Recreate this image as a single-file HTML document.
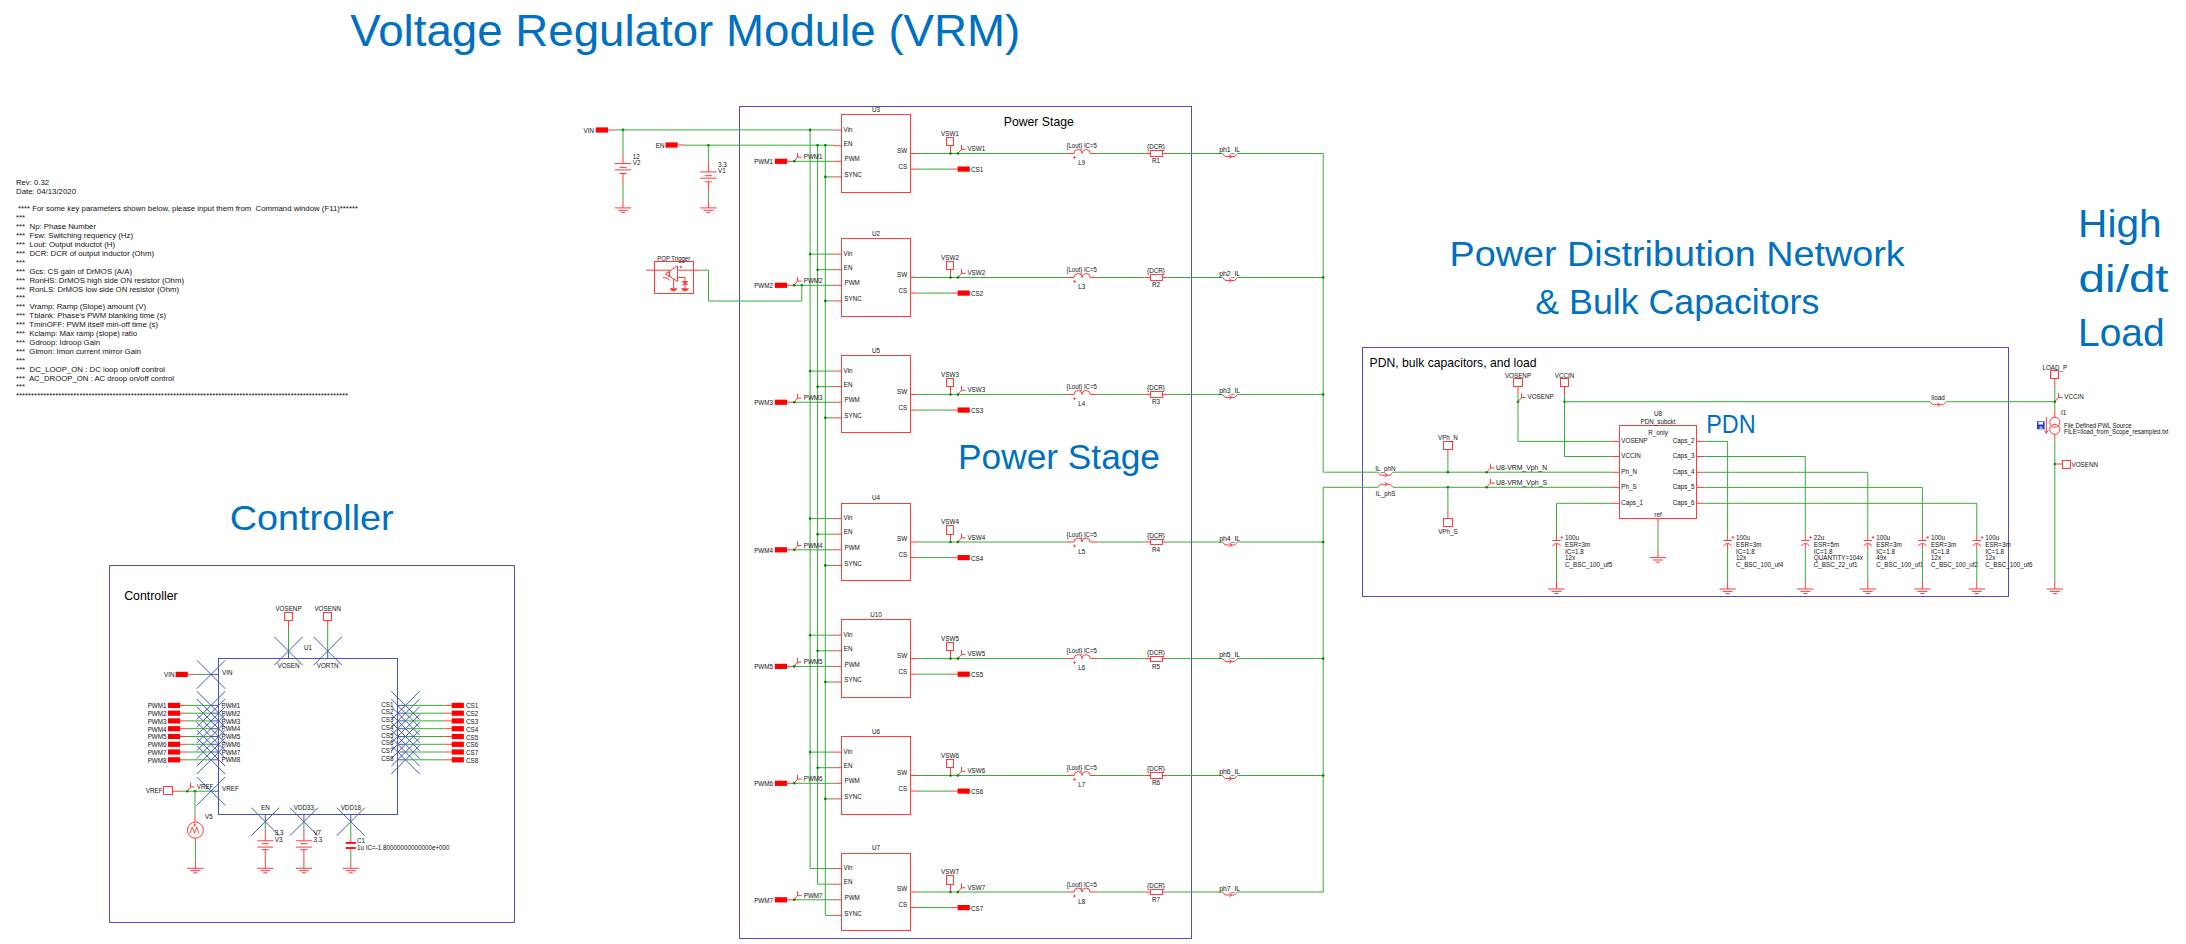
<!DOCTYPE html>
<html><head><meta charset="utf-8"><title>VRM schematic</title>
<style>
html,body{margin:0;padding:0;background:#fff;}
body{width:2186px;height:944px;overflow:hidden;}
svg{display:block;}
text{font-family:"Liberation Sans",sans-serif;white-space:pre;}
</style></head>
<body>
<svg width="2186" height="944" viewBox="0 0 2186 944">
<rect x="0" y="0" width="2186" height="944" fill="#ffffff"/>
<rect x="739.50" y="106.50" width="452.00" height="832.00" stroke="#4f4fb4" stroke-width="1" fill="none"/>
<rect x="1362.50" y="347.50" width="646.00" height="249.00" stroke="#4f4fb4" stroke-width="1" fill="none"/>
<rect x="109.50" y="565.50" width="405.00" height="357.00" stroke="#4f4fb4" stroke-width="1" fill="none"/>
<text x="350.3" y="45.6" font-size="45.11" fill="#0070c0" textLength="670" lengthAdjust="spacingAndGlyphs">Voltage Regulator Module (VRM)</text>
<text x="1449.6" y="265.8" font-size="34.78" fill="#0070c0" textLength="455" lengthAdjust="spacingAndGlyphs">Power Distribution Network</text>
<text x="1535.3" y="313.5" font-size="34.78" fill="#0070c0" textLength="284" lengthAdjust="spacingAndGlyphs">&amp; Bulk Capacitors</text>
<text x="2078.1" y="237.4" font-size="38.13" fill="#0070c0" textLength="83.5" lengthAdjust="spacingAndGlyphs">High</text>
<text x="2078.6" y="291.6" font-size="38.13" fill="#0070c0" textLength="90" lengthAdjust="spacingAndGlyphs">di/dt</text>
<text x="2078.1" y="345.5" font-size="38.13" fill="#0070c0" textLength="86.5" lengthAdjust="spacingAndGlyphs">Load</text>
<text x="958" y="468.9" font-size="34.22" fill="#0070c0" textLength="202" lengthAdjust="spacingAndGlyphs">Power Stage</text>
<text x="229.7" y="530" font-size="34.78" fill="#0070c0" textLength="164" lengthAdjust="spacingAndGlyphs">Controller</text>
<text x="1706.2" y="433" font-size="24.86" fill="#0070c0" textLength="49.5" lengthAdjust="spacingAndGlyphs">PDN</text>
<text x="1003.80" y="125.60" font-size="12.8" fill="#000" textLength="70" lengthAdjust="spacingAndGlyphs">Power Stage</text>
<text x="1369.60" y="366.50" font-size="12.7" fill="#000" textLength="167" lengthAdjust="spacingAndGlyphs">PDN, bulk capacitors, and load</text>
<text x="124.20" y="599.90" font-size="13" fill="#000" textLength="53.5" lengthAdjust="spacingAndGlyphs">Controller</text>
<text x="16.00" y="184.79" font-size="7.8" fill="#111111" textLength="33" lengthAdjust="spacingAndGlyphs">Rev: 0.32</text>
<text x="16.00" y="193.69" font-size="7.8" fill="#111111" textLength="60" lengthAdjust="spacingAndGlyphs">Date: 04/13/2020</text>
<text x="18.00" y="211.49" font-size="7.8" fill="#111111" textLength="340" lengthAdjust="spacingAndGlyphs">**** For some key parameters shown below, please input them from  Command window (F11)******</text>
<text x="16.00" y="220.39" font-size="7.8" fill="#111111" textLength="9" lengthAdjust="spacingAndGlyphs">***</text>
<text x="16.00" y="229.29" font-size="7.8" fill="#111111" textLength="80" lengthAdjust="spacingAndGlyphs">***  Np: Phase Number</text>
<text x="16.00" y="238.19" font-size="7.8" fill="#111111" textLength="117" lengthAdjust="spacingAndGlyphs">***  Fsw: Switching requency (Hz)</text>
<text x="16.00" y="247.09" font-size="7.8" fill="#111111" textLength="99" lengthAdjust="spacingAndGlyphs">***  Lout: Output inductot (H)</text>
<text x="16.00" y="255.99" font-size="7.8" fill="#111111" textLength="138" lengthAdjust="spacingAndGlyphs">***  DCR: DCR of output inductor (Ohm)</text>
<text x="16.00" y="264.89" font-size="7.8" fill="#111111" textLength="9" lengthAdjust="spacingAndGlyphs">***</text>
<text x="16.00" y="273.79" font-size="7.8" fill="#111111" textLength="116" lengthAdjust="spacingAndGlyphs">***  Gcs: CS gain of DrMOS (A/A)</text>
<text x="16.00" y="282.69" font-size="7.8" fill="#111111" textLength="168" lengthAdjust="spacingAndGlyphs">***  RonHS: DrMOS high side ON resistor (Ohm)</text>
<text x="16.00" y="291.59" font-size="7.8" fill="#111111" textLength="163" lengthAdjust="spacingAndGlyphs">***  RonLS: DrMOS low side ON resistor (Ohm)</text>
<text x="16.00" y="300.49" font-size="7.8" fill="#111111" textLength="9" lengthAdjust="spacingAndGlyphs">***</text>
<text x="16.00" y="309.39" font-size="7.8" fill="#111111" textLength="130" lengthAdjust="spacingAndGlyphs">***  Vramp: Ramp (Slope) amount (V)</text>
<text x="16.00" y="318.29" font-size="7.8" fill="#111111" textLength="150" lengthAdjust="spacingAndGlyphs">***  Tblank: Phase's PWM blanking time (s)</text>
<text x="16.00" y="327.19" font-size="7.8" fill="#111111" textLength="142" lengthAdjust="spacingAndGlyphs">***  TminOFF: PWM itself min-off time (s)</text>
<text x="16.00" y="336.09" font-size="7.8" fill="#111111" textLength="121" lengthAdjust="spacingAndGlyphs">***  Kclamp: Max ramp (slope) ratio</text>
<text x="16.00" y="344.99" font-size="7.8" fill="#111111" textLength="84" lengthAdjust="spacingAndGlyphs">***  Gdroop: Idroop Gain</text>
<text x="16.00" y="353.89" font-size="7.8" fill="#111111" textLength="125" lengthAdjust="spacingAndGlyphs">***  Gimon: Imon current mirror Gain</text>
<text x="16.00" y="362.79" font-size="7.8" fill="#111111" textLength="9" lengthAdjust="spacingAndGlyphs">***</text>
<text x="16.00" y="371.69" font-size="7.8" fill="#111111" textLength="149" lengthAdjust="spacingAndGlyphs">***  DC_LOOP_ON : DC loop on/off control</text>
<text x="16.00" y="380.59" font-size="7.8" fill="#111111" textLength="158" lengthAdjust="spacingAndGlyphs">***  AC_DROOP_ON : AC droop on/off control</text>
<text x="16.00" y="389.49" font-size="7.8" fill="#111111" textLength="9" lengthAdjust="spacingAndGlyphs">***</text>
<text x="16.00" y="398.39" font-size="7.8" fill="#111111" textLength="332" lengthAdjust="spacingAndGlyphs">**************************************************************************************************************</text>
<rect x="595.80" y="127.40" width="12.20" height="5.20" fill="#ff0000"/>
<text transform="translate(594.00,132.65) scale(0.85,1)" font-size="7.4" fill="#111111" text-anchor="end">VIN</text>
<line x1="608.00" y1="130.00" x2="615.00" y2="130.00" stroke="#ff3b3b" stroke-width="1"/>
<line x1="615.00" y1="129.90" x2="833.20" y2="129.90" stroke="#3aaa3a" stroke-width="1"/>
<circle cx="623.00" cy="129.90" r="1.3" fill="#008800"/>
<line x1="623.00" y1="129.90" x2="623.00" y2="153.90" stroke="#3aaa3a" stroke-width="1"/>
<line x1="623.00" y1="153.90" x2="623.00" y2="163.60" stroke="#ff3b3b" stroke-width="1"/>
<line x1="614.80" y1="163.60" x2="631.20" y2="163.60" stroke="#ff3b3b" stroke-width="1"/>
<line x1="619.50" y1="167.40" x2="626.50" y2="167.40" stroke="#ff3b3b" stroke-width="1"/>
<line x1="614.80" y1="169.90" x2="631.20" y2="169.90" stroke="#ff3b3b" stroke-width="1"/>
<line x1="619.50" y1="173.50" x2="626.50" y2="173.50" stroke="#ff3b3b" stroke-width="1"/>
<line x1="623.00" y1="173.50" x2="623.00" y2="184.10" stroke="#ff3b3b" stroke-width="1"/>
<line x1="623.00" y1="184.10" x2="623.00" y2="200.10" stroke="#3aaa3a" stroke-width="1"/>
<line x1="623.00" y1="200.10" x2="623.00" y2="207.90" stroke="#ff3b3b" stroke-width="1"/>
<line x1="614.80" y1="207.90" x2="631.20" y2="207.90" stroke="#ff3b3b" stroke-width="1"/>
<line x1="618.00" y1="210.30" x2="628.00" y2="210.30" stroke="#ff3b3b" stroke-width="1"/>
<line x1="621.00" y1="212.40" x2="625.00" y2="212.40" stroke="#ff3b3b" stroke-width="1"/>
<text transform="translate(632.80,159.15) scale(0.85,1)" font-size="7.4" fill="#111111">12</text>
<text transform="translate(632.80,165.45) scale(0.85,1)" font-size="7.4" fill="#111111">V2</text>
<rect x="665.50" y="142.40" width="12.20" height="5.20" fill="#ff0000"/>
<text transform="translate(664.50,147.65) scale(0.85,1)" font-size="7.4" fill="#111111" text-anchor="end">EN</text>
<line x1="677.70" y1="145.00" x2="685.00" y2="145.00" stroke="#ff3b3b" stroke-width="1"/>
<line x1="685.00" y1="145.20" x2="833.20" y2="145.20" stroke="#3aaa3a" stroke-width="1"/>
<circle cx="708.40" cy="145.20" r="1.3" fill="#008800"/>
<line x1="708.40" y1="145.20" x2="708.40" y2="161.30" stroke="#3aaa3a" stroke-width="1"/>
<line x1="708.40" y1="161.30" x2="708.40" y2="171.90" stroke="#ff3b3b" stroke-width="1"/>
<line x1="700.20" y1="171.90" x2="716.60" y2="171.90" stroke="#ff3b3b" stroke-width="1"/>
<line x1="704.90" y1="175.70" x2="711.90" y2="175.70" stroke="#ff3b3b" stroke-width="1"/>
<line x1="700.20" y1="178.20" x2="716.60" y2="178.20" stroke="#ff3b3b" stroke-width="1"/>
<line x1="704.90" y1="181.80" x2="711.90" y2="181.80" stroke="#ff3b3b" stroke-width="1"/>
<line x1="708.40" y1="181.80" x2="708.40" y2="191.60" stroke="#ff3b3b" stroke-width="1"/>
<line x1="708.40" y1="191.60" x2="708.40" y2="200.10" stroke="#3aaa3a" stroke-width="1"/>
<line x1="708.40" y1="200.10" x2="708.40" y2="207.90" stroke="#ff3b3b" stroke-width="1"/>
<line x1="700.20" y1="207.90" x2="716.60" y2="207.90" stroke="#ff3b3b" stroke-width="1"/>
<line x1="703.40" y1="210.30" x2="713.40" y2="210.30" stroke="#ff3b3b" stroke-width="1"/>
<line x1="706.40" y1="212.40" x2="710.40" y2="212.40" stroke="#ff3b3b" stroke-width="1"/>
<text transform="translate(718.00,166.65) scale(0.85,1)" font-size="7.4" fill="#111111">3.3</text>
<text transform="translate(718.00,173.45) scale(0.85,1)" font-size="7.4" fill="#111111">V1</text>
<line x1="810.10" y1="129.90" x2="810.10" y2="868.60" stroke="#3aaa3a" stroke-width="1"/>
<line x1="817.60" y1="145.20" x2="817.60" y2="884.20" stroke="#3aaa3a" stroke-width="1"/>
<line x1="825.30" y1="145.20" x2="825.30" y2="915.40" stroke="#3aaa3a" stroke-width="1"/>
<circle cx="810.10" cy="129.90" r="1.3" fill="#008800"/>
<circle cx="817.60" cy="145.20" r="1.3" fill="#008800"/>
<circle cx="825.30" cy="145.20" r="1.3" fill="#008800"/>
<rect x="841.50" y="114.50" width="69.00" height="78.00" stroke="#ff3b3b" stroke-width="1" fill="none"/>
<text transform="translate(876.00,111.75) scale(0.85,1)" font-size="7.4" fill="#111111" text-anchor="middle">U3</text>
<line x1="833.20" y1="130.10" x2="841.20" y2="130.10" stroke="#ff3b3b" stroke-width="1"/>
<text transform="translate(843.60,131.55) scale(0.85,1)" font-size="7.4" fill="#111111">Vin</text>
<line x1="833.20" y1="145.70" x2="841.20" y2="145.70" stroke="#ff3b3b" stroke-width="1"/>
<text transform="translate(843.80,145.85) scale(0.85,1)" font-size="7.4" fill="#111111">EN</text>
<line x1="833.20" y1="161.30" x2="841.20" y2="161.30" stroke="#ff3b3b" stroke-width="1"/>
<text transform="translate(844.50,161.45) scale(0.85,1)" font-size="7.4" fill="#111111">PWM</text>
<line x1="833.20" y1="176.90" x2="841.20" y2="176.90" stroke="#ff3b3b" stroke-width="1"/>
<text transform="translate(844.30,177.05) scale(0.85,1)" font-size="7.4" fill="#111111">SYNC</text>
<line x1="825.30" y1="176.90" x2="833.20" y2="176.90" stroke="#3aaa3a" stroke-width="1"/>
<circle cx="825.30" cy="176.90" r="1.3" fill="#008800"/>
<text transform="translate(907.20,152.55) scale(0.85,1)" font-size="7.4" fill="#111111" text-anchor="end">SW</text>
<text transform="translate(907.20,168.55) scale(0.85,1)" font-size="7.4" fill="#111111" text-anchor="end">CS</text>
<line x1="910.80" y1="153.50" x2="918.00" y2="153.50" stroke="#ff3b3b" stroke-width="1"/>
<line x1="910.80" y1="169.10" x2="918.00" y2="169.10" stroke="#ff3b3b" stroke-width="1"/>
<line x1="918.00" y1="153.50" x2="1067.00" y2="153.50" stroke="#3aaa3a" stroke-width="1"/>
<path d="M1067,153.50 H1074.1 A4,4 0 0 1 1082.1,153.50 A4,4 0 0 1 1090.1,153.50 H1097.8" stroke="#ff3b3b" stroke-width="1" fill="none"/>
<path d="M1073,157.50 H1076 M1074.5,156.00 V159.00" stroke="#ff3b3b" stroke-width="0.8" fill="none"/>
<text x="1066.40" y="148.25" font-size="7.4" fill="#111111" textLength="30.5" lengthAdjust="spacingAndGlyphs">{Lout} IC=5</text>
<text transform="translate(1081.80,165.25) scale(0.85,1)" font-size="7.4" fill="#111111" text-anchor="middle">L9</text>
<line x1="1097.80" y1="153.50" x2="1144.60" y2="153.50" stroke="#3aaa3a" stroke-width="1"/>
<line x1="1144.60" y1="153.50" x2="1150.00" y2="153.50" stroke="#ff3b3b" stroke-width="1"/>
<rect x="1150.50" y="150.50" width="12.00" height="6.00" stroke="#ff3b3b" stroke-width="1" fill="none"/>
<line x1="1162.50" y1="153.50" x2="1167.40" y2="153.50" stroke="#ff3b3b" stroke-width="1"/>
<text transform="translate(1156.00,149.45) scale(0.85,1)" font-size="7.4" fill="#111111" text-anchor="middle">{DCR}</text>
<text transform="translate(1156.00,163.45) scale(0.85,1)" font-size="7.4" fill="#111111" text-anchor="middle">R1</text>
<line x1="1167.40" y1="153.50" x2="1222.60" y2="153.50" stroke="#3aaa3a" stroke-width="1"/>
<path d="M1222.60,153.50 L1225.10,156.50 H1234.70 L1237.50,153.50" stroke="#ff3b3b" stroke-width="1" fill="none"/>
<path d="M1229.34,154.50 L1231.84,156.50 L1229.34,158.50" stroke="#ff3b3b" stroke-width="1" fill="none"/>
<text x="1219.20" y="152.25" font-size="7.4" fill="#111111" textLength="21" lengthAdjust="spacingAndGlyphs">ph1_IL</text>
<line x1="1237.50" y1="153.50" x2="1323.20" y2="153.50" stroke="#3aaa3a" stroke-width="1"/>
<rect x="946.50" y="137.50" width="7.00" height="8.00" stroke="#ff3b3b" stroke-width="1" fill="none"/>
<text transform="translate(950.00,135.65) scale(0.85,1)" font-size="7.4" fill="#111111" text-anchor="middle">VSW1</text>
<line x1="950.50" y1="145.50" x2="950.50" y2="153.50" stroke="#ff3b3b" stroke-width="1"/>
<path d="M957.90,153.50 L961.50,149.30 M961.50,145.00 V149.50 M961.50,149.30 H965.50" stroke="#ff3b3b" stroke-width="1" fill="none"/>
<text transform="translate(967.40,151.25) scale(0.85,1)" font-size="7.4" fill="#111111">VSW1</text>
<circle cx="950.50" cy="153.50" r="1.3" fill="#008800"/>
<circle cx="957.90" cy="153.50" r="1.3" fill="#008800"/>
<line x1="918.00" y1="169.10" x2="950.80" y2="169.10" stroke="#3aaa3a" stroke-width="1"/>
<line x1="950.80" y1="169.10" x2="957.60" y2="169.10" stroke="#ff3b3b" stroke-width="1"/>
<rect x="957.60" y="166.50" width="12.20" height="5.20" fill="#ff0000"/>
<text transform="translate(971.00,172.05) scale(0.85,1)" font-size="7.4" fill="#111111">CS1</text>
<rect x="774.80" y="158.70" width="12.20" height="5.20" fill="#ff0000"/>
<text transform="translate(773.00,164.35) scale(0.85,1)" font-size="7.4" fill="#111111" text-anchor="end">PWM1</text>
<line x1="786.80" y1="161.30" x2="794.20" y2="161.30" stroke="#ff3b3b" stroke-width="1"/>
<line x1="794.20" y1="161.30" x2="833.20" y2="161.30" stroke="#3aaa3a" stroke-width="1"/>
<path d="M794.20,161.30 L797.50,157.10 M797.50,152.80 V157.30 M797.50,157.10 H801.50" stroke="#ff3b3b" stroke-width="1" fill="none"/>
<text transform="translate(803.70,159.05) scale(0.85,1)" font-size="7.4" fill="#111111">PWM1</text>
<circle cx="794.20" cy="161.30" r="1.3" fill="#008800"/>
<rect x="841.50" y="238.50" width="69.00" height="78.00" stroke="#ff3b3b" stroke-width="1" fill="none"/>
<text transform="translate(876.00,235.75) scale(0.85,1)" font-size="7.4" fill="#111111" text-anchor="middle">U2</text>
<line x1="833.20" y1="254.10" x2="841.20" y2="254.10" stroke="#ff3b3b" stroke-width="1"/>
<text transform="translate(843.60,255.55) scale(0.85,1)" font-size="7.4" fill="#111111">Vin</text>
<line x1="833.20" y1="269.70" x2="841.20" y2="269.70" stroke="#ff3b3b" stroke-width="1"/>
<text transform="translate(843.80,269.85) scale(0.85,1)" font-size="7.4" fill="#111111">EN</text>
<line x1="833.20" y1="285.30" x2="841.20" y2="285.30" stroke="#ff3b3b" stroke-width="1"/>
<text transform="translate(844.50,285.45) scale(0.85,1)" font-size="7.4" fill="#111111">PWM</text>
<line x1="833.20" y1="300.90" x2="841.20" y2="300.90" stroke="#ff3b3b" stroke-width="1"/>
<text transform="translate(844.30,301.05) scale(0.85,1)" font-size="7.4" fill="#111111">SYNC</text>
<line x1="810.10" y1="254.10" x2="833.20" y2="254.10" stroke="#3aaa3a" stroke-width="1"/>
<line x1="817.60" y1="269.70" x2="833.20" y2="269.70" stroke="#3aaa3a" stroke-width="1"/>
<circle cx="810.10" cy="254.10" r="1.3" fill="#008800"/>
<circle cx="817.60" cy="269.70" r="1.3" fill="#008800"/>
<line x1="825.30" y1="300.90" x2="833.20" y2="300.90" stroke="#3aaa3a" stroke-width="1"/>
<circle cx="825.30" cy="300.90" r="1.3" fill="#008800"/>
<text transform="translate(907.20,276.55) scale(0.85,1)" font-size="7.4" fill="#111111" text-anchor="end">SW</text>
<text transform="translate(907.20,292.55) scale(0.85,1)" font-size="7.4" fill="#111111" text-anchor="end">CS</text>
<line x1="910.80" y1="277.50" x2="918.00" y2="277.50" stroke="#ff3b3b" stroke-width="1"/>
<line x1="910.80" y1="293.10" x2="918.00" y2="293.10" stroke="#ff3b3b" stroke-width="1"/>
<line x1="918.00" y1="277.50" x2="1067.00" y2="277.50" stroke="#3aaa3a" stroke-width="1"/>
<path d="M1067,277.50 H1074.1 A4,4 0 0 1 1082.1,277.50 A4,4 0 0 1 1090.1,277.50 H1097.8" stroke="#ff3b3b" stroke-width="1" fill="none"/>
<path d="M1073,281.50 H1076 M1074.5,280.00 V283.00" stroke="#ff3b3b" stroke-width="0.8" fill="none"/>
<text x="1066.40" y="272.25" font-size="7.4" fill="#111111" textLength="30.5" lengthAdjust="spacingAndGlyphs">{Lout} IC=5</text>
<text transform="translate(1081.80,289.25) scale(0.85,1)" font-size="7.4" fill="#111111" text-anchor="middle">L3</text>
<line x1="1097.80" y1="277.50" x2="1144.60" y2="277.50" stroke="#3aaa3a" stroke-width="1"/>
<line x1="1144.60" y1="277.50" x2="1150.00" y2="277.50" stroke="#ff3b3b" stroke-width="1"/>
<rect x="1150.50" y="274.50" width="12.00" height="6.00" stroke="#ff3b3b" stroke-width="1" fill="none"/>
<line x1="1162.50" y1="277.50" x2="1167.40" y2="277.50" stroke="#ff3b3b" stroke-width="1"/>
<text transform="translate(1156.00,273.45) scale(0.85,1)" font-size="7.4" fill="#111111" text-anchor="middle">{DCR}</text>
<text transform="translate(1156.00,287.45) scale(0.85,1)" font-size="7.4" fill="#111111" text-anchor="middle">R2</text>
<line x1="1167.40" y1="277.50" x2="1222.60" y2="277.50" stroke="#3aaa3a" stroke-width="1"/>
<path d="M1222.60,277.50 L1225.10,280.50 H1234.70 L1237.50,277.50" stroke="#ff3b3b" stroke-width="1" fill="none"/>
<path d="M1229.34,278.50 L1231.84,280.50 L1229.34,282.50" stroke="#ff3b3b" stroke-width="1" fill="none"/>
<text x="1219.20" y="276.25" font-size="7.4" fill="#111111" textLength="21" lengthAdjust="spacingAndGlyphs">ph2_IL</text>
<line x1="1237.50" y1="277.50" x2="1323.20" y2="277.50" stroke="#3aaa3a" stroke-width="1"/>
<rect x="946.50" y="261.50" width="7.00" height="8.00" stroke="#ff3b3b" stroke-width="1" fill="none"/>
<text transform="translate(950.00,259.65) scale(0.85,1)" font-size="7.4" fill="#111111" text-anchor="middle">VSW2</text>
<line x1="950.50" y1="269.50" x2="950.50" y2="277.50" stroke="#ff3b3b" stroke-width="1"/>
<path d="M957.90,277.50 L961.50,273.30 M961.50,269.00 V273.50 M961.50,273.30 H965.50" stroke="#ff3b3b" stroke-width="1" fill="none"/>
<text transform="translate(967.40,275.25) scale(0.85,1)" font-size="7.4" fill="#111111">VSW2</text>
<circle cx="950.50" cy="277.50" r="1.3" fill="#008800"/>
<circle cx="957.90" cy="277.50" r="1.3" fill="#008800"/>
<line x1="918.00" y1="293.10" x2="950.80" y2="293.10" stroke="#3aaa3a" stroke-width="1"/>
<line x1="950.80" y1="293.10" x2="957.60" y2="293.10" stroke="#ff3b3b" stroke-width="1"/>
<rect x="957.60" y="290.50" width="12.20" height="5.20" fill="#ff0000"/>
<text transform="translate(971.00,296.05) scale(0.85,1)" font-size="7.4" fill="#111111">CS2</text>
<rect x="774.80" y="282.70" width="12.20" height="5.20" fill="#ff0000"/>
<text transform="translate(773.00,288.35) scale(0.85,1)" font-size="7.4" fill="#111111" text-anchor="end">PWM2</text>
<line x1="786.80" y1="285.30" x2="794.20" y2="285.30" stroke="#ff3b3b" stroke-width="1"/>
<line x1="794.20" y1="285.30" x2="833.20" y2="285.30" stroke="#3aaa3a" stroke-width="1"/>
<path d="M794.20,285.30 L797.50,281.10 M797.50,276.80 V281.30 M797.50,281.10 H801.50" stroke="#ff3b3b" stroke-width="1" fill="none"/>
<text transform="translate(803.70,283.05) scale(0.85,1)" font-size="7.4" fill="#111111">PWM2</text>
<circle cx="794.20" cy="285.30" r="1.3" fill="#008800"/>
<rect x="841.50" y="355.50" width="69.00" height="77.00" stroke="#ff3b3b" stroke-width="1" fill="none"/>
<text transform="translate(876.00,352.70) scale(0.85,1)" font-size="7.4" fill="#111111" text-anchor="middle">U5</text>
<line x1="833.20" y1="371.05" x2="841.20" y2="371.05" stroke="#ff3b3b" stroke-width="1"/>
<text transform="translate(843.60,372.50) scale(0.85,1)" font-size="7.4" fill="#111111">Vin</text>
<line x1="833.20" y1="386.65" x2="841.20" y2="386.65" stroke="#ff3b3b" stroke-width="1"/>
<text transform="translate(843.80,386.80) scale(0.85,1)" font-size="7.4" fill="#111111">EN</text>
<line x1="833.20" y1="402.25" x2="841.20" y2="402.25" stroke="#ff3b3b" stroke-width="1"/>
<text transform="translate(844.50,402.40) scale(0.85,1)" font-size="7.4" fill="#111111">PWM</text>
<line x1="833.20" y1="417.85" x2="841.20" y2="417.85" stroke="#ff3b3b" stroke-width="1"/>
<text transform="translate(844.30,418.00) scale(0.85,1)" font-size="7.4" fill="#111111">SYNC</text>
<line x1="810.10" y1="371.05" x2="833.20" y2="371.05" stroke="#3aaa3a" stroke-width="1"/>
<line x1="817.60" y1="386.65" x2="833.20" y2="386.65" stroke="#3aaa3a" stroke-width="1"/>
<circle cx="810.10" cy="371.05" r="1.3" fill="#008800"/>
<circle cx="817.60" cy="386.65" r="1.3" fill="#008800"/>
<line x1="825.30" y1="417.85" x2="833.20" y2="417.85" stroke="#3aaa3a" stroke-width="1"/>
<circle cx="825.30" cy="417.85" r="1.3" fill="#008800"/>
<text transform="translate(907.20,393.50) scale(0.85,1)" font-size="7.4" fill="#111111" text-anchor="end">SW</text>
<text transform="translate(907.20,409.50) scale(0.85,1)" font-size="7.4" fill="#111111" text-anchor="end">CS</text>
<line x1="910.80" y1="394.45" x2="918.00" y2="394.45" stroke="#ff3b3b" stroke-width="1"/>
<line x1="910.80" y1="410.05" x2="918.00" y2="410.05" stroke="#ff3b3b" stroke-width="1"/>
<line x1="918.00" y1="394.45" x2="1067.00" y2="394.45" stroke="#3aaa3a" stroke-width="1"/>
<path d="M1067,394.45 H1074.1 A4,4 0 0 1 1082.1,394.45 A4,4 0 0 1 1090.1,394.45 H1097.8" stroke="#ff3b3b" stroke-width="1" fill="none"/>
<path d="M1073,398.45 H1076 M1074.5,396.95 V399.95" stroke="#ff3b3b" stroke-width="0.8" fill="none"/>
<text x="1066.40" y="389.20" font-size="7.4" fill="#111111" textLength="30.5" lengthAdjust="spacingAndGlyphs">{Lout} IC=5</text>
<text transform="translate(1081.80,406.20) scale(0.85,1)" font-size="7.4" fill="#111111" text-anchor="middle">L4</text>
<line x1="1097.80" y1="394.45" x2="1144.60" y2="394.45" stroke="#3aaa3a" stroke-width="1"/>
<line x1="1144.60" y1="394.45" x2="1150.00" y2="394.45" stroke="#ff3b3b" stroke-width="1"/>
<rect x="1150.50" y="391.50" width="12.00" height="6.00" stroke="#ff3b3b" stroke-width="1" fill="none"/>
<line x1="1162.50" y1="394.45" x2="1167.40" y2="394.45" stroke="#ff3b3b" stroke-width="1"/>
<text transform="translate(1156.00,390.40) scale(0.85,1)" font-size="7.4" fill="#111111" text-anchor="middle">{DCR}</text>
<text transform="translate(1156.00,404.40) scale(0.85,1)" font-size="7.4" fill="#111111" text-anchor="middle">R3</text>
<line x1="1167.40" y1="394.45" x2="1222.60" y2="394.45" stroke="#3aaa3a" stroke-width="1"/>
<path d="M1222.60,394.45 L1225.10,397.45 H1234.70 L1237.50,394.45" stroke="#ff3b3b" stroke-width="1" fill="none"/>
<path d="M1229.34,395.45 L1231.84,397.45 L1229.34,399.45" stroke="#ff3b3b" stroke-width="1" fill="none"/>
<text x="1219.20" y="393.20" font-size="7.4" fill="#111111" textLength="21" lengthAdjust="spacingAndGlyphs">ph3_IL</text>
<line x1="1237.50" y1="394.45" x2="1323.20" y2="394.45" stroke="#3aaa3a" stroke-width="1"/>
<rect x="946.50" y="378.50" width="7.00" height="8.00" stroke="#ff3b3b" stroke-width="1" fill="none"/>
<text transform="translate(950.00,376.60) scale(0.85,1)" font-size="7.4" fill="#111111" text-anchor="middle">VSW3</text>
<line x1="950.50" y1="386.45" x2="950.50" y2="394.45" stroke="#ff3b3b" stroke-width="1"/>
<path d="M957.90,394.45 L961.50,390.25 M961.50,385.95 V390.45 M961.50,390.25 H965.50" stroke="#ff3b3b" stroke-width="1" fill="none"/>
<text transform="translate(967.40,392.20) scale(0.85,1)" font-size="7.4" fill="#111111">VSW3</text>
<circle cx="950.50" cy="394.45" r="1.3" fill="#008800"/>
<circle cx="957.90" cy="394.45" r="1.3" fill="#008800"/>
<line x1="918.00" y1="410.05" x2="950.80" y2="410.05" stroke="#3aaa3a" stroke-width="1"/>
<line x1="950.80" y1="410.05" x2="957.60" y2="410.05" stroke="#ff3b3b" stroke-width="1"/>
<rect x="957.60" y="407.45" width="12.20" height="5.20" fill="#ff0000"/>
<text transform="translate(971.00,413.00) scale(0.85,1)" font-size="7.4" fill="#111111">CS3</text>
<rect x="774.80" y="399.65" width="12.20" height="5.20" fill="#ff0000"/>
<text transform="translate(773.00,405.30) scale(0.85,1)" font-size="7.4" fill="#111111" text-anchor="end">PWM3</text>
<line x1="786.80" y1="402.25" x2="794.20" y2="402.25" stroke="#ff3b3b" stroke-width="1"/>
<line x1="794.20" y1="402.25" x2="833.20" y2="402.25" stroke="#3aaa3a" stroke-width="1"/>
<path d="M794.20,402.25 L797.50,398.05 M797.50,393.75 V398.25 M797.50,398.05 H801.50" stroke="#ff3b3b" stroke-width="1" fill="none"/>
<text transform="translate(803.70,400.00) scale(0.85,1)" font-size="7.4" fill="#111111">PWM3</text>
<circle cx="794.20" cy="402.25" r="1.3" fill="#008800"/>
<rect x="841.50" y="503.50" width="69.00" height="77.00" stroke="#ff3b3b" stroke-width="1" fill="none"/>
<text transform="translate(876.00,500.25) scale(0.85,1)" font-size="7.4" fill="#111111" text-anchor="middle">U4</text>
<line x1="833.20" y1="518.60" x2="841.20" y2="518.60" stroke="#ff3b3b" stroke-width="1"/>
<text transform="translate(843.60,520.05) scale(0.85,1)" font-size="7.4" fill="#111111">Vin</text>
<line x1="833.20" y1="534.20" x2="841.20" y2="534.20" stroke="#ff3b3b" stroke-width="1"/>
<text transform="translate(843.80,534.35) scale(0.85,1)" font-size="7.4" fill="#111111">EN</text>
<line x1="833.20" y1="549.80" x2="841.20" y2="549.80" stroke="#ff3b3b" stroke-width="1"/>
<text transform="translate(844.50,549.95) scale(0.85,1)" font-size="7.4" fill="#111111">PWM</text>
<line x1="833.20" y1="565.40" x2="841.20" y2="565.40" stroke="#ff3b3b" stroke-width="1"/>
<text transform="translate(844.30,565.55) scale(0.85,1)" font-size="7.4" fill="#111111">SYNC</text>
<line x1="810.10" y1="518.60" x2="833.20" y2="518.60" stroke="#3aaa3a" stroke-width="1"/>
<line x1="817.60" y1="534.20" x2="833.20" y2="534.20" stroke="#3aaa3a" stroke-width="1"/>
<circle cx="810.10" cy="518.60" r="1.3" fill="#008800"/>
<circle cx="817.60" cy="534.20" r="1.3" fill="#008800"/>
<line x1="825.30" y1="565.40" x2="833.20" y2="565.40" stroke="#3aaa3a" stroke-width="1"/>
<circle cx="825.30" cy="565.40" r="1.3" fill="#008800"/>
<text transform="translate(907.20,541.05) scale(0.85,1)" font-size="7.4" fill="#111111" text-anchor="end">SW</text>
<text transform="translate(907.20,557.05) scale(0.85,1)" font-size="7.4" fill="#111111" text-anchor="end">CS</text>
<line x1="910.80" y1="542.00" x2="918.00" y2="542.00" stroke="#ff3b3b" stroke-width="1"/>
<line x1="910.80" y1="557.60" x2="918.00" y2="557.60" stroke="#ff3b3b" stroke-width="1"/>
<line x1="918.00" y1="542.00" x2="1067.00" y2="542.00" stroke="#3aaa3a" stroke-width="1"/>
<path d="M1067,542.00 H1074.1 A4,4 0 0 1 1082.1,542.00 A4,4 0 0 1 1090.1,542.00 H1097.8" stroke="#ff3b3b" stroke-width="1" fill="none"/>
<path d="M1073,546.00 H1076 M1074.5,544.50 V547.50" stroke="#ff3b3b" stroke-width="0.8" fill="none"/>
<text x="1066.40" y="536.75" font-size="7.4" fill="#111111" textLength="30.5" lengthAdjust="spacingAndGlyphs">{Lout} IC=5</text>
<text transform="translate(1081.80,553.75) scale(0.85,1)" font-size="7.4" fill="#111111" text-anchor="middle">L5</text>
<line x1="1097.80" y1="542.00" x2="1144.60" y2="542.00" stroke="#3aaa3a" stroke-width="1"/>
<line x1="1144.60" y1="542.00" x2="1150.00" y2="542.00" stroke="#ff3b3b" stroke-width="1"/>
<rect x="1150.50" y="539.50" width="12.00" height="5.00" stroke="#ff3b3b" stroke-width="1" fill="none"/>
<line x1="1162.50" y1="542.00" x2="1167.40" y2="542.00" stroke="#ff3b3b" stroke-width="1"/>
<text transform="translate(1156.00,537.95) scale(0.85,1)" font-size="7.4" fill="#111111" text-anchor="middle">{DCR}</text>
<text transform="translate(1156.00,551.95) scale(0.85,1)" font-size="7.4" fill="#111111" text-anchor="middle">R4</text>
<line x1="1167.40" y1="542.00" x2="1222.60" y2="542.00" stroke="#3aaa3a" stroke-width="1"/>
<path d="M1222.60,542.00 L1225.10,545.00 H1234.70 L1237.50,542.00" stroke="#ff3b3b" stroke-width="1" fill="none"/>
<path d="M1229.34,543.00 L1231.84,545.00 L1229.34,547.00" stroke="#ff3b3b" stroke-width="1" fill="none"/>
<text x="1219.20" y="540.75" font-size="7.4" fill="#111111" textLength="21" lengthAdjust="spacingAndGlyphs">ph4_IL</text>
<line x1="1237.50" y1="542.00" x2="1323.20" y2="542.00" stroke="#3aaa3a" stroke-width="1"/>
<rect x="946.50" y="525.50" width="7.00" height="9.00" stroke="#ff3b3b" stroke-width="1" fill="none"/>
<text transform="translate(950.00,524.15) scale(0.85,1)" font-size="7.4" fill="#111111" text-anchor="middle">VSW4</text>
<line x1="950.50" y1="534.00" x2="950.50" y2="542.00" stroke="#ff3b3b" stroke-width="1"/>
<path d="M957.90,542.00 L961.50,537.80 M961.50,533.50 V538.00 M961.50,537.80 H965.50" stroke="#ff3b3b" stroke-width="1" fill="none"/>
<text transform="translate(967.40,539.75) scale(0.85,1)" font-size="7.4" fill="#111111">VSW4</text>
<circle cx="950.50" cy="542.00" r="1.3" fill="#008800"/>
<circle cx="957.90" cy="542.00" r="1.3" fill="#008800"/>
<line x1="918.00" y1="557.60" x2="950.80" y2="557.60" stroke="#3aaa3a" stroke-width="1"/>
<line x1="950.80" y1="557.60" x2="957.60" y2="557.60" stroke="#ff3b3b" stroke-width="1"/>
<rect x="957.60" y="555.00" width="12.20" height="5.20" fill="#ff0000"/>
<text transform="translate(971.00,560.55) scale(0.85,1)" font-size="7.4" fill="#111111">CS4</text>
<rect x="774.80" y="547.20" width="12.20" height="5.20" fill="#ff0000"/>
<text transform="translate(773.00,552.85) scale(0.85,1)" font-size="7.4" fill="#111111" text-anchor="end">PWM4</text>
<line x1="786.80" y1="549.80" x2="794.20" y2="549.80" stroke="#ff3b3b" stroke-width="1"/>
<line x1="794.20" y1="549.80" x2="833.20" y2="549.80" stroke="#3aaa3a" stroke-width="1"/>
<path d="M794.20,549.80 L797.50,545.60 M797.50,541.30 V545.80 M797.50,545.60 H801.50" stroke="#ff3b3b" stroke-width="1" fill="none"/>
<text transform="translate(803.70,547.55) scale(0.85,1)" font-size="7.4" fill="#111111">PWM4</text>
<circle cx="794.20" cy="549.80" r="1.3" fill="#008800"/>
<rect x="841.50" y="619.50" width="69.00" height="78.00" stroke="#ff3b3b" stroke-width="1" fill="none"/>
<text transform="translate(876.00,616.85) scale(0.85,1)" font-size="7.4" fill="#111111" text-anchor="middle">U10</text>
<line x1="833.20" y1="635.20" x2="841.20" y2="635.20" stroke="#ff3b3b" stroke-width="1"/>
<text transform="translate(843.60,636.65) scale(0.85,1)" font-size="7.4" fill="#111111">Vin</text>
<line x1="833.20" y1="650.80" x2="841.20" y2="650.80" stroke="#ff3b3b" stroke-width="1"/>
<text transform="translate(843.80,650.95) scale(0.85,1)" font-size="7.4" fill="#111111">EN</text>
<line x1="833.20" y1="666.40" x2="841.20" y2="666.40" stroke="#ff3b3b" stroke-width="1"/>
<text transform="translate(844.50,666.55) scale(0.85,1)" font-size="7.4" fill="#111111">PWM</text>
<line x1="833.20" y1="682.00" x2="841.20" y2="682.00" stroke="#ff3b3b" stroke-width="1"/>
<text transform="translate(844.30,682.15) scale(0.85,1)" font-size="7.4" fill="#111111">SYNC</text>
<line x1="810.10" y1="635.20" x2="833.20" y2="635.20" stroke="#3aaa3a" stroke-width="1"/>
<line x1="817.60" y1="650.80" x2="833.20" y2="650.80" stroke="#3aaa3a" stroke-width="1"/>
<circle cx="810.10" cy="635.20" r="1.3" fill="#008800"/>
<circle cx="817.60" cy="650.80" r="1.3" fill="#008800"/>
<line x1="825.30" y1="682.00" x2="833.20" y2="682.00" stroke="#3aaa3a" stroke-width="1"/>
<circle cx="825.30" cy="682.00" r="1.3" fill="#008800"/>
<text transform="translate(907.20,657.65) scale(0.85,1)" font-size="7.4" fill="#111111" text-anchor="end">SW</text>
<text transform="translate(907.20,673.65) scale(0.85,1)" font-size="7.4" fill="#111111" text-anchor="end">CS</text>
<line x1="910.80" y1="658.60" x2="918.00" y2="658.60" stroke="#ff3b3b" stroke-width="1"/>
<line x1="910.80" y1="674.20" x2="918.00" y2="674.20" stroke="#ff3b3b" stroke-width="1"/>
<line x1="918.00" y1="658.60" x2="1067.00" y2="658.60" stroke="#3aaa3a" stroke-width="1"/>
<path d="M1067,658.60 H1074.1 A4,4 0 0 1 1082.1,658.60 A4,4 0 0 1 1090.1,658.60 H1097.8" stroke="#ff3b3b" stroke-width="1" fill="none"/>
<path d="M1073,662.60 H1076 M1074.5,661.10 V664.10" stroke="#ff3b3b" stroke-width="0.8" fill="none"/>
<text x="1066.40" y="653.35" font-size="7.4" fill="#111111" textLength="30.5" lengthAdjust="spacingAndGlyphs">{Lout} IC=5</text>
<text transform="translate(1081.80,670.35) scale(0.85,1)" font-size="7.4" fill="#111111" text-anchor="middle">L6</text>
<line x1="1097.80" y1="658.60" x2="1144.60" y2="658.60" stroke="#3aaa3a" stroke-width="1"/>
<line x1="1144.60" y1="658.60" x2="1150.00" y2="658.60" stroke="#ff3b3b" stroke-width="1"/>
<rect x="1150.50" y="656.50" width="12.00" height="5.00" stroke="#ff3b3b" stroke-width="1" fill="none"/>
<line x1="1162.50" y1="658.60" x2="1167.40" y2="658.60" stroke="#ff3b3b" stroke-width="1"/>
<text transform="translate(1156.00,654.55) scale(0.85,1)" font-size="7.4" fill="#111111" text-anchor="middle">{DCR}</text>
<text transform="translate(1156.00,668.55) scale(0.85,1)" font-size="7.4" fill="#111111" text-anchor="middle">R5</text>
<line x1="1167.40" y1="658.60" x2="1222.60" y2="658.60" stroke="#3aaa3a" stroke-width="1"/>
<path d="M1222.60,658.60 L1225.10,661.60 H1234.70 L1237.50,658.60" stroke="#ff3b3b" stroke-width="1" fill="none"/>
<path d="M1229.34,659.60 L1231.84,661.60 L1229.34,663.60" stroke="#ff3b3b" stroke-width="1" fill="none"/>
<text x="1219.20" y="657.35" font-size="7.4" fill="#111111" textLength="21" lengthAdjust="spacingAndGlyphs">ph5_IL</text>
<line x1="1237.50" y1="658.60" x2="1323.20" y2="658.60" stroke="#3aaa3a" stroke-width="1"/>
<rect x="946.50" y="642.50" width="7.00" height="8.00" stroke="#ff3b3b" stroke-width="1" fill="none"/>
<text transform="translate(950.00,640.75) scale(0.85,1)" font-size="7.4" fill="#111111" text-anchor="middle">VSW5</text>
<line x1="950.50" y1="650.60" x2="950.50" y2="658.60" stroke="#ff3b3b" stroke-width="1"/>
<path d="M957.90,658.60 L961.50,654.40 M961.50,650.10 V654.60 M961.50,654.40 H965.50" stroke="#ff3b3b" stroke-width="1" fill="none"/>
<text transform="translate(967.40,656.35) scale(0.85,1)" font-size="7.4" fill="#111111">VSW5</text>
<circle cx="950.50" cy="658.60" r="1.3" fill="#008800"/>
<circle cx="957.90" cy="658.60" r="1.3" fill="#008800"/>
<line x1="918.00" y1="674.20" x2="950.80" y2="674.20" stroke="#3aaa3a" stroke-width="1"/>
<line x1="950.80" y1="674.20" x2="957.60" y2="674.20" stroke="#ff3b3b" stroke-width="1"/>
<rect x="957.60" y="671.60" width="12.20" height="5.20" fill="#ff0000"/>
<text transform="translate(971.00,677.15) scale(0.85,1)" font-size="7.4" fill="#111111">CS5</text>
<rect x="774.80" y="663.80" width="12.20" height="5.20" fill="#ff0000"/>
<text transform="translate(773.00,669.45) scale(0.85,1)" font-size="7.4" fill="#111111" text-anchor="end">PWM5</text>
<line x1="786.80" y1="666.40" x2="794.20" y2="666.40" stroke="#ff3b3b" stroke-width="1"/>
<line x1="794.20" y1="666.40" x2="833.20" y2="666.40" stroke="#3aaa3a" stroke-width="1"/>
<path d="M794.20,666.40 L797.50,662.20 M797.50,657.90 V662.40 M797.50,662.20 H801.50" stroke="#ff3b3b" stroke-width="1" fill="none"/>
<text transform="translate(803.70,664.15) scale(0.85,1)" font-size="7.4" fill="#111111">PWM5</text>
<circle cx="794.20" cy="666.40" r="1.3" fill="#008800"/>
<rect x="841.50" y="736.50" width="69.00" height="78.00" stroke="#ff3b3b" stroke-width="1" fill="none"/>
<text transform="translate(876.00,733.75) scale(0.85,1)" font-size="7.4" fill="#111111" text-anchor="middle">U6</text>
<line x1="833.20" y1="752.10" x2="841.20" y2="752.10" stroke="#ff3b3b" stroke-width="1"/>
<text transform="translate(843.60,753.55) scale(0.85,1)" font-size="7.4" fill="#111111">Vin</text>
<line x1="833.20" y1="767.70" x2="841.20" y2="767.70" stroke="#ff3b3b" stroke-width="1"/>
<text transform="translate(843.80,767.85) scale(0.85,1)" font-size="7.4" fill="#111111">EN</text>
<line x1="833.20" y1="783.30" x2="841.20" y2="783.30" stroke="#ff3b3b" stroke-width="1"/>
<text transform="translate(844.50,783.45) scale(0.85,1)" font-size="7.4" fill="#111111">PWM</text>
<line x1="833.20" y1="798.90" x2="841.20" y2="798.90" stroke="#ff3b3b" stroke-width="1"/>
<text transform="translate(844.30,799.05) scale(0.85,1)" font-size="7.4" fill="#111111">SYNC</text>
<line x1="810.10" y1="752.10" x2="833.20" y2="752.10" stroke="#3aaa3a" stroke-width="1"/>
<line x1="817.60" y1="767.70" x2="833.20" y2="767.70" stroke="#3aaa3a" stroke-width="1"/>
<circle cx="810.10" cy="752.10" r="1.3" fill="#008800"/>
<circle cx="817.60" cy="767.70" r="1.3" fill="#008800"/>
<line x1="825.30" y1="798.90" x2="833.20" y2="798.90" stroke="#3aaa3a" stroke-width="1"/>
<circle cx="825.30" cy="798.90" r="1.3" fill="#008800"/>
<text transform="translate(907.20,774.55) scale(0.85,1)" font-size="7.4" fill="#111111" text-anchor="end">SW</text>
<text transform="translate(907.20,790.55) scale(0.85,1)" font-size="7.4" fill="#111111" text-anchor="end">CS</text>
<line x1="910.80" y1="775.50" x2="918.00" y2="775.50" stroke="#ff3b3b" stroke-width="1"/>
<line x1="910.80" y1="791.10" x2="918.00" y2="791.10" stroke="#ff3b3b" stroke-width="1"/>
<line x1="918.00" y1="775.50" x2="1067.00" y2="775.50" stroke="#3aaa3a" stroke-width="1"/>
<path d="M1067,775.50 H1074.1 A4,4 0 0 1 1082.1,775.50 A4,4 0 0 1 1090.1,775.50 H1097.8" stroke="#ff3b3b" stroke-width="1" fill="none"/>
<path d="M1073,779.50 H1076 M1074.5,778.00 V781.00" stroke="#ff3b3b" stroke-width="0.8" fill="none"/>
<text x="1066.40" y="770.25" font-size="7.4" fill="#111111" textLength="30.5" lengthAdjust="spacingAndGlyphs">{Lout} IC=5</text>
<text transform="translate(1081.80,787.25) scale(0.85,1)" font-size="7.4" fill="#111111" text-anchor="middle">L7</text>
<line x1="1097.80" y1="775.50" x2="1144.60" y2="775.50" stroke="#3aaa3a" stroke-width="1"/>
<line x1="1144.60" y1="775.50" x2="1150.00" y2="775.50" stroke="#ff3b3b" stroke-width="1"/>
<rect x="1150.50" y="772.50" width="12.00" height="6.00" stroke="#ff3b3b" stroke-width="1" fill="none"/>
<line x1="1162.50" y1="775.50" x2="1167.40" y2="775.50" stroke="#ff3b3b" stroke-width="1"/>
<text transform="translate(1156.00,771.45) scale(0.85,1)" font-size="7.4" fill="#111111" text-anchor="middle">{DCR}</text>
<text transform="translate(1156.00,785.45) scale(0.85,1)" font-size="7.4" fill="#111111" text-anchor="middle">R6</text>
<line x1="1167.40" y1="775.50" x2="1222.60" y2="775.50" stroke="#3aaa3a" stroke-width="1"/>
<path d="M1222.60,775.50 L1225.10,778.50 H1234.70 L1237.50,775.50" stroke="#ff3b3b" stroke-width="1" fill="none"/>
<path d="M1229.34,776.50 L1231.84,778.50 L1229.34,780.50" stroke="#ff3b3b" stroke-width="1" fill="none"/>
<text x="1219.20" y="774.25" font-size="7.4" fill="#111111" textLength="21" lengthAdjust="spacingAndGlyphs">ph6_IL</text>
<line x1="1237.50" y1="775.50" x2="1323.20" y2="775.50" stroke="#3aaa3a" stroke-width="1"/>
<rect x="946.50" y="759.50" width="7.00" height="8.00" stroke="#ff3b3b" stroke-width="1" fill="none"/>
<text transform="translate(950.00,757.65) scale(0.85,1)" font-size="7.4" fill="#111111" text-anchor="middle">VSW6</text>
<line x1="950.50" y1="767.50" x2="950.50" y2="775.50" stroke="#ff3b3b" stroke-width="1"/>
<path d="M957.90,775.50 L961.50,771.30 M961.50,767.00 V771.50 M961.50,771.30 H965.50" stroke="#ff3b3b" stroke-width="1" fill="none"/>
<text transform="translate(967.40,773.25) scale(0.85,1)" font-size="7.4" fill="#111111">VSW6</text>
<circle cx="950.50" cy="775.50" r="1.3" fill="#008800"/>
<circle cx="957.90" cy="775.50" r="1.3" fill="#008800"/>
<line x1="918.00" y1="791.10" x2="950.80" y2="791.10" stroke="#3aaa3a" stroke-width="1"/>
<line x1="950.80" y1="791.10" x2="957.60" y2="791.10" stroke="#ff3b3b" stroke-width="1"/>
<rect x="957.60" y="788.50" width="12.20" height="5.20" fill="#ff0000"/>
<text transform="translate(971.00,794.05) scale(0.85,1)" font-size="7.4" fill="#111111">CS6</text>
<rect x="774.80" y="780.70" width="12.20" height="5.20" fill="#ff0000"/>
<text transform="translate(773.00,786.35) scale(0.85,1)" font-size="7.4" fill="#111111" text-anchor="end">PWM6</text>
<line x1="786.80" y1="783.30" x2="794.20" y2="783.30" stroke="#ff3b3b" stroke-width="1"/>
<line x1="794.20" y1="783.30" x2="833.20" y2="783.30" stroke="#3aaa3a" stroke-width="1"/>
<path d="M794.20,783.30 L797.50,779.10 M797.50,774.80 V779.30 M797.50,779.10 H801.50" stroke="#ff3b3b" stroke-width="1" fill="none"/>
<text transform="translate(803.70,781.05) scale(0.85,1)" font-size="7.4" fill="#111111">PWM6</text>
<circle cx="794.20" cy="783.30" r="1.3" fill="#008800"/>
<rect x="841.50" y="853.50" width="69.00" height="77.00" stroke="#ff3b3b" stroke-width="1" fill="none"/>
<text transform="translate(876.00,850.25) scale(0.85,1)" font-size="7.4" fill="#111111" text-anchor="middle">U7</text>
<line x1="833.20" y1="868.60" x2="841.20" y2="868.60" stroke="#ff3b3b" stroke-width="1"/>
<text transform="translate(843.60,870.05) scale(0.85,1)" font-size="7.4" fill="#111111">Vin</text>
<line x1="833.20" y1="884.20" x2="841.20" y2="884.20" stroke="#ff3b3b" stroke-width="1"/>
<text transform="translate(843.80,884.35) scale(0.85,1)" font-size="7.4" fill="#111111">EN</text>
<line x1="833.20" y1="899.80" x2="841.20" y2="899.80" stroke="#ff3b3b" stroke-width="1"/>
<text transform="translate(844.50,899.95) scale(0.85,1)" font-size="7.4" fill="#111111">PWM</text>
<line x1="833.20" y1="915.40" x2="841.20" y2="915.40" stroke="#ff3b3b" stroke-width="1"/>
<text transform="translate(844.30,915.55) scale(0.85,1)" font-size="7.4" fill="#111111">SYNC</text>
<line x1="810.10" y1="868.60" x2="833.20" y2="868.60" stroke="#3aaa3a" stroke-width="1"/>
<line x1="817.60" y1="884.20" x2="833.20" y2="884.20" stroke="#3aaa3a" stroke-width="1"/>
<line x1="825.30" y1="915.40" x2="833.20" y2="915.40" stroke="#3aaa3a" stroke-width="1"/>
<text transform="translate(907.20,891.05) scale(0.85,1)" font-size="7.4" fill="#111111" text-anchor="end">SW</text>
<text transform="translate(907.20,907.05) scale(0.85,1)" font-size="7.4" fill="#111111" text-anchor="end">CS</text>
<line x1="910.80" y1="892.00" x2="918.00" y2="892.00" stroke="#ff3b3b" stroke-width="1"/>
<line x1="910.80" y1="907.60" x2="918.00" y2="907.60" stroke="#ff3b3b" stroke-width="1"/>
<line x1="918.00" y1="892.00" x2="1067.00" y2="892.00" stroke="#3aaa3a" stroke-width="1"/>
<path d="M1067,892.00 H1074.1 A4,4 0 0 1 1082.1,892.00 A4,4 0 0 1 1090.1,892.00 H1097.8" stroke="#ff3b3b" stroke-width="1" fill="none"/>
<path d="M1073,896.00 H1076 M1074.5,894.50 V897.50" stroke="#ff3b3b" stroke-width="0.8" fill="none"/>
<text x="1066.40" y="886.75" font-size="7.4" fill="#111111" textLength="30.5" lengthAdjust="spacingAndGlyphs">{Lout} IC=5</text>
<text transform="translate(1081.80,903.75) scale(0.85,1)" font-size="7.4" fill="#111111" text-anchor="middle">L8</text>
<line x1="1097.80" y1="892.00" x2="1144.60" y2="892.00" stroke="#3aaa3a" stroke-width="1"/>
<line x1="1144.60" y1="892.00" x2="1150.00" y2="892.00" stroke="#ff3b3b" stroke-width="1"/>
<rect x="1150.50" y="889.50" width="12.00" height="5.00" stroke="#ff3b3b" stroke-width="1" fill="none"/>
<line x1="1162.50" y1="892.00" x2="1167.40" y2="892.00" stroke="#ff3b3b" stroke-width="1"/>
<text transform="translate(1156.00,887.95) scale(0.85,1)" font-size="7.4" fill="#111111" text-anchor="middle">{DCR}</text>
<text transform="translate(1156.00,901.95) scale(0.85,1)" font-size="7.4" fill="#111111" text-anchor="middle">R7</text>
<line x1="1167.40" y1="892.00" x2="1222.60" y2="892.00" stroke="#3aaa3a" stroke-width="1"/>
<path d="M1222.60,892.00 L1225.10,895.00 H1234.70 L1237.50,892.00" stroke="#ff3b3b" stroke-width="1" fill="none"/>
<path d="M1229.34,893.00 L1231.84,895.00 L1229.34,897.00" stroke="#ff3b3b" stroke-width="1" fill="none"/>
<text x="1219.20" y="890.75" font-size="7.4" fill="#111111" textLength="21" lengthAdjust="spacingAndGlyphs">ph7_IL</text>
<line x1="1237.50" y1="892.00" x2="1323.20" y2="892.00" stroke="#3aaa3a" stroke-width="1"/>
<rect x="946.50" y="875.50" width="7.00" height="9.00" stroke="#ff3b3b" stroke-width="1" fill="none"/>
<text transform="translate(950.00,874.15) scale(0.85,1)" font-size="7.4" fill="#111111" text-anchor="middle">VSW7</text>
<line x1="950.50" y1="884.00" x2="950.50" y2="892.00" stroke="#ff3b3b" stroke-width="1"/>
<path d="M957.90,892.00 L961.50,887.80 M961.50,883.50 V888.00 M961.50,887.80 H965.50" stroke="#ff3b3b" stroke-width="1" fill="none"/>
<text transform="translate(967.40,889.75) scale(0.85,1)" font-size="7.4" fill="#111111">VSW7</text>
<circle cx="950.50" cy="892.00" r="1.3" fill="#008800"/>
<circle cx="957.90" cy="892.00" r="1.3" fill="#008800"/>
<line x1="918.00" y1="907.60" x2="950.80" y2="907.60" stroke="#3aaa3a" stroke-width="1"/>
<line x1="950.80" y1="907.60" x2="957.60" y2="907.60" stroke="#ff3b3b" stroke-width="1"/>
<rect x="957.60" y="905.00" width="12.20" height="5.20" fill="#ff0000"/>
<text transform="translate(971.00,910.55) scale(0.85,1)" font-size="7.4" fill="#111111">CS7</text>
<rect x="774.80" y="897.20" width="12.20" height="5.20" fill="#ff0000"/>
<text transform="translate(773.00,902.85) scale(0.85,1)" font-size="7.4" fill="#111111" text-anchor="end">PWM7</text>
<line x1="786.80" y1="899.80" x2="794.20" y2="899.80" stroke="#ff3b3b" stroke-width="1"/>
<line x1="794.20" y1="899.80" x2="833.20" y2="899.80" stroke="#3aaa3a" stroke-width="1"/>
<path d="M794.20,899.80 L797.50,895.60 M797.50,891.30 V895.80 M797.50,895.60 H801.50" stroke="#ff3b3b" stroke-width="1" fill="none"/>
<text transform="translate(803.70,897.55) scale(0.85,1)" font-size="7.4" fill="#111111">PWM7</text>
<circle cx="794.20" cy="899.80" r="1.3" fill="#008800"/>
<line x1="1323.20" y1="153.50" x2="1323.20" y2="472.20" stroke="#3aaa3a" stroke-width="1"/>
<line x1="1323.20" y1="487.30" x2="1323.20" y2="892.00" stroke="#3aaa3a" stroke-width="1"/>
<circle cx="1323.20" cy="277.50" r="1.3" fill="#008800"/>
<circle cx="1323.20" cy="394.45" r="1.3" fill="#008800"/>
<circle cx="1323.20" cy="542.00" r="1.3" fill="#008800"/>
<circle cx="1323.20" cy="658.60" r="1.3" fill="#008800"/>
<circle cx="1323.20" cy="775.50" r="1.3" fill="#008800"/>
<circle cx="801.80" cy="285.30" r="1.3" fill="#008800"/>
<path d="M801.8,285.30 V301 H708.5 V270.2 H700.7" stroke="#3aaa3a" stroke-width="1" fill="none"/>
<rect x="654.50" y="261.50" width="39.00" height="32.00" stroke="#ff3b3b" stroke-width="1" fill="none"/>
<line x1="646.20" y1="270.20" x2="670.00" y2="270.20" stroke="#ff3b3b" stroke-width="1"/>
<line x1="677.50" y1="270.20" x2="700.70" y2="270.20" stroke="#ff3b3b" stroke-width="1"/>
<path d="M665.4,273.8 L677.5,265.9 V281.4 Z" stroke="#ff3b3b" stroke-width="1" fill="none"/>
<path d="M663,277.5 L667.5,278.2 L669.5,280.5" stroke="#ff3b3b" stroke-width="1" fill="none"/>
<path d="M673.6,279 V288.5 M677.5,277.5 H685 V288.5" stroke="#ff3b3b" stroke-width="1" fill="none"/>
<path d="M670.8,288.8 H676.4 L675.2,290.4 H672 Z M682.2,288.8 H687.8 L686.6,290.4 H683.4 Z" stroke="#ff3b3b" stroke-width="1.2" fill="#ff3b3b"/>
<path d="M682.3,281.6 H687.7 L685,284.2 Z M682.3,284.4 H687.7" stroke="#ff3b3b" stroke-width="1.0" fill="#ff3b3b"/>
<path d="M679.6,267 H682.2 M680.9,265.7 V268.3" stroke="#ff3b3b" stroke-width="0.9" fill="none"/>
<path d="M668.2,273.2 L669.5,272 V276.2 M668.3,276.2 H670.7" stroke="#ff3b3b" stroke-width="1.1" fill="none"/>
<text x="673.70" y="261.25" font-size="7.4" fill="#111111" text-anchor="middle" textLength="33" lengthAdjust="spacingAndGlyphs">POP Trigger</text>
<line x1="1323.20" y1="472.20" x2="1378.00" y2="472.20" stroke="#3aaa3a" stroke-width="1"/>
<line x1="1393.00" y1="472.20" x2="1611.70" y2="472.20" stroke="#3aaa3a" stroke-width="1"/>
<line x1="1323.20" y1="487.30" x2="1378.00" y2="487.30" stroke="#3aaa3a" stroke-width="1"/>
<line x1="1393.00" y1="487.30" x2="1611.70" y2="487.30" stroke="#3aaa3a" stroke-width="1"/>
<path d="M1378.00,472.20 L1380.50,475.20 H1390.20 L1393.00,472.20" stroke="#ff3b3b" stroke-width="1" fill="none"/>
<path d="M1384.80,473.20 L1387.30,475.20 L1384.80,477.20" stroke="#ff3b3b" stroke-width="1" fill="none"/>
<text transform="translate(1385.50,470.65) scale(0.85,1)" font-size="7.4" fill="#111111" text-anchor="middle">IL_phN</text>
<path d="M1378.00,487.30 L1380.50,484.30 H1390.20 L1393.00,487.30" stroke="#ff3b3b" stroke-width="1" fill="none"/>
<path d="M1384.80,482.30 L1387.30,484.30 L1384.80,486.30" stroke="#ff3b3b" stroke-width="1" fill="none"/>
<text transform="translate(1385.50,495.65) scale(0.85,1)" font-size="7.4" fill="#111111" text-anchor="middle">IL_phS</text>
<rect x="1443.50" y="441.50" width="9.00" height="8.00" stroke="#ff3b3b" stroke-width="1" fill="none"/>
<text transform="translate(1447.90,439.85) scale(0.85,1)" font-size="7.4" fill="#111111" text-anchor="middle">VPh_N</text>
<line x1="1447.90" y1="449.20" x2="1447.90" y2="456.00" stroke="#ff3b3b" stroke-width="1"/>
<line x1="1447.90" y1="456.00" x2="1447.90" y2="472.20" stroke="#3aaa3a" stroke-width="1"/>
<line x1="1447.90" y1="487.30" x2="1447.90" y2="510.70" stroke="#3aaa3a" stroke-width="1"/>
<line x1="1447.90" y1="510.70" x2="1447.90" y2="518.30" stroke="#ff3b3b" stroke-width="1"/>
<rect x="1443.50" y="518.50" width="9.00" height="8.00" stroke="#ff3b3b" stroke-width="1" fill="none"/>
<text transform="translate(1447.90,533.65) scale(0.85,1)" font-size="7.4" fill="#111111" text-anchor="middle">VPh_S</text>
<circle cx="1447.90" cy="472.20" r="1.3" fill="#008800"/>
<circle cx="1447.90" cy="487.30" r="1.3" fill="#008800"/>
<circle cx="1486.60" cy="472.20" r="1.3" fill="#008800"/>
<path d="M1486.60,472.20 L1490.50,468.00 M1490.50,463.70 V468.20 M1490.50,468.00 H1494.50" stroke="#ff3b3b" stroke-width="1" fill="none"/>
<text x="1496.10" y="469.95" font-size="7.4" fill="#111111" textLength="51" lengthAdjust="spacingAndGlyphs">U8-VRM_Vph_N</text>
<circle cx="1486.60" cy="487.30" r="1.3" fill="#008800"/>
<path d="M1486.60,487.30 L1490.50,483.10 M1490.50,478.80 V483.30 M1490.50,483.10 H1494.50" stroke="#ff3b3b" stroke-width="1" fill="none"/>
<text x="1496.10" y="485.05" font-size="7.4" fill="#111111" textLength="51" lengthAdjust="spacingAndGlyphs">U8-VRM_Vph_S</text>
<rect x="1513.50" y="378.50" width="9.00" height="8.00" stroke="#ff3b3b" stroke-width="1" fill="none"/>
<text transform="translate(1518.00,377.65) scale(0.85,1)" font-size="7.4" fill="#111111" text-anchor="middle">VOSENP</text>
<line x1="1518.00" y1="386.60" x2="1518.00" y2="394.00" stroke="#ff3b3b" stroke-width="1"/>
<line x1="1518.00" y1="394.00" x2="1518.00" y2="441.40" stroke="#3aaa3a" stroke-width="1"/>
<line x1="1518.00" y1="441.40" x2="1611.70" y2="441.40" stroke="#3aaa3a" stroke-width="1"/>
<circle cx="1518.00" cy="401.70" r="1.3" fill="#008800"/>
<path d="M1518.00,401.70 L1521.50,397.50 M1521.50,393.20 V397.70 M1521.50,397.50 H1525.50" stroke="#ff3b3b" stroke-width="1" fill="none"/>
<text transform="translate(1527.50,399.45) scale(0.85,1)" font-size="7.4" fill="#111111">VOSENP</text>
<rect x="1560.50" y="378.50" width="8.00" height="8.00" stroke="#ff3b3b" stroke-width="1" fill="none"/>
<text transform="translate(1564.50,377.65) scale(0.85,1)" font-size="7.4" fill="#111111" text-anchor="middle">VCCIN</text>
<line x1="1564.50" y1="386.60" x2="1564.50" y2="394.00" stroke="#ff3b3b" stroke-width="1"/>
<line x1="1564.50" y1="394.00" x2="1564.50" y2="456.50" stroke="#3aaa3a" stroke-width="1"/>
<line x1="1564.50" y1="456.50" x2="1611.70" y2="456.50" stroke="#3aaa3a" stroke-width="1"/>
<circle cx="1564.50" cy="401.70" r="1.3" fill="#008800"/>
<line x1="1564.50" y1="401.70" x2="1930.00" y2="401.70" stroke="#3aaa3a" stroke-width="1"/>
<line x1="1946.00" y1="401.70" x2="2054.80" y2="401.70" stroke="#3aaa3a" stroke-width="1"/>
<path d="M1930.00,401.70 L1932.50,404.70 H1943.20 L1946.00,401.70" stroke="#ff3b3b" stroke-width="1" fill="none"/>
<path d="M1937.42,402.70 L1939.92,404.70 L1937.42,406.70" stroke="#ff3b3b" stroke-width="1" fill="none"/>
<text transform="translate(1938.00,400.15) scale(0.85,1)" font-size="7.4" fill="#111111" text-anchor="middle">iload</text>
<rect x="1619.50" y="425.50" width="77.00" height="93.00" stroke="#ff3b3b" stroke-width="1" fill="none"/>
<text transform="translate(1658.00,416.15) scale(0.85,1)" font-size="7.4" fill="#111111" text-anchor="middle">U8</text>
<text transform="translate(1658.00,424.15) scale(0.85,1)" font-size="7.4" fill="#111111" text-anchor="middle">PDN_subckt</text>
<text transform="translate(1658.00,435.15) scale(0.85,1)" font-size="7.4" fill="#111111" text-anchor="middle">R_only</text>
<text transform="translate(1658.00,516.65) scale(0.85,1)" font-size="7.4" fill="#111111" text-anchor="middle">ref</text>
<line x1="1611.70" y1="441.40" x2="1619.30" y2="441.40" stroke="#ff3b3b" stroke-width="1"/>
<text transform="translate(1621.30,443.15) scale(0.85,1)" font-size="7.4" fill="#111111">VOSENP</text>
<line x1="1611.70" y1="456.50" x2="1619.30" y2="456.50" stroke="#ff3b3b" stroke-width="1"/>
<text transform="translate(1621.30,458.25) scale(0.85,1)" font-size="7.4" fill="#111111">VCCIN</text>
<line x1="1611.70" y1="472.30" x2="1619.30" y2="472.30" stroke="#ff3b3b" stroke-width="1"/>
<text transform="translate(1621.30,474.05) scale(0.85,1)" font-size="7.4" fill="#111111">Ph_N</text>
<line x1="1611.70" y1="487.40" x2="1619.30" y2="487.40" stroke="#ff3b3b" stroke-width="1"/>
<text transform="translate(1621.30,489.15) scale(0.85,1)" font-size="7.4" fill="#111111">Ph_S</text>
<line x1="1611.70" y1="503.30" x2="1619.30" y2="503.30" stroke="#ff3b3b" stroke-width="1"/>
<text transform="translate(1621.30,505.05) scale(0.85,1)" font-size="7.4" fill="#111111">Caps_1</text>
<line x1="1696.40" y1="441.40" x2="1704.50" y2="441.40" stroke="#ff3b3b" stroke-width="1"/>
<text transform="translate(1694.50,443.15) scale(0.85,1)" font-size="7.4" fill="#111111" text-anchor="end">Caps_2</text>
<line x1="1696.40" y1="456.50" x2="1704.50" y2="456.50" stroke="#ff3b3b" stroke-width="1"/>
<text transform="translate(1694.50,458.25) scale(0.85,1)" font-size="7.4" fill="#111111" text-anchor="end">Caps_3</text>
<line x1="1696.40" y1="472.30" x2="1704.50" y2="472.30" stroke="#ff3b3b" stroke-width="1"/>
<text transform="translate(1694.50,474.05) scale(0.85,1)" font-size="7.4" fill="#111111" text-anchor="end">Caps_4</text>
<line x1="1696.40" y1="487.40" x2="1704.50" y2="487.40" stroke="#ff3b3b" stroke-width="1"/>
<text transform="translate(1694.50,489.15) scale(0.85,1)" font-size="7.4" fill="#111111" text-anchor="end">Caps_5</text>
<line x1="1696.40" y1="503.30" x2="1704.50" y2="503.30" stroke="#ff3b3b" stroke-width="1"/>
<text transform="translate(1694.50,505.05) scale(0.85,1)" font-size="7.4" fill="#111111" text-anchor="end">Caps_6</text>
<line x1="1658.00" y1="518.30" x2="1658.00" y2="526.70" stroke="#ff3b3b" stroke-width="1"/>
<line x1="1658.00" y1="526.70" x2="1658.00" y2="550.00" stroke="#3aaa3a" stroke-width="1"/>
<line x1="1658.00" y1="550.00" x2="1658.00" y2="557.60" stroke="#ff3b3b" stroke-width="1"/>
<line x1="1649.80" y1="557.60" x2="1666.20" y2="557.60" stroke="#ff3b3b" stroke-width="1"/>
<line x1="1653.00" y1="560.00" x2="1663.00" y2="560.00" stroke="#ff3b3b" stroke-width="1"/>
<line x1="1656.00" y1="562.10" x2="1660.00" y2="562.10" stroke="#ff3b3b" stroke-width="1"/>
<line x1="1556.50" y1="503.30" x2="1611.70" y2="503.30" stroke="#3aaa3a" stroke-width="1"/>
<line x1="1556.50" y1="503.30" x2="1556.50" y2="534.90" stroke="#3aaa3a" stroke-width="1"/>
<line x1="1556.50" y1="534.90" x2="1556.50" y2="540.50" stroke="#ff3b3b" stroke-width="1"/>
<line x1="1552.30" y1="540.50" x2="1560.70" y2="540.50" stroke="#ff3b3b" stroke-width="1"/>
<path d="M1552.30,545.80 Q1556.50,541.20 1560.70,545.80" stroke="#ff3b3b" stroke-width="1" fill="none"/>
<line x1="1556.50" y1="543.60" x2="1556.50" y2="548.90" stroke="#ff3b3b" stroke-width="1"/>
<line x1="1556.50" y1="548.90" x2="1556.50" y2="580.90" stroke="#3aaa3a" stroke-width="1"/>
<line x1="1556.50" y1="580.90" x2="1556.50" y2="589.00" stroke="#ff3b3b" stroke-width="1"/>
<line x1="1548.30" y1="589.00" x2="1564.70" y2="589.00" stroke="#ff3b3b" stroke-width="1"/>
<line x1="1551.50" y1="591.40" x2="1561.50" y2="591.40" stroke="#ff3b3b" stroke-width="1"/>
<line x1="1554.50" y1="593.50" x2="1558.50" y2="593.50" stroke="#ff3b3b" stroke-width="1"/>
<path d="M1560.50,537.40 H1563.10 M1561.80,536.10 V538.70" stroke="#ff3b3b" stroke-width="0.9" fill="none"/>
<text transform="translate(1565.00,540.05) scale(0.85,1)" font-size="7.4" fill="#111111">100u</text>
<text transform="translate(1565.00,546.85) scale(0.85,1)" font-size="7.4" fill="#111111">ESR=3m</text>
<text transform="translate(1565.00,553.65) scale(0.85,1)" font-size="7.4" fill="#111111">IC=1.8</text>
<text transform="translate(1565.00,560.45) scale(0.85,1)" font-size="7.4" fill="#111111">12x</text>
<text transform="translate(1565.00,567.25) scale(0.85,1)" font-size="7.4" fill="#111111">C_BSC_100_uf5</text>
<line x1="1704.50" y1="441.40" x2="1727.60" y2="441.40" stroke="#3aaa3a" stroke-width="1"/>
<line x1="1727.60" y1="441.40" x2="1727.60" y2="534.90" stroke="#3aaa3a" stroke-width="1"/>
<line x1="1727.60" y1="534.90" x2="1727.60" y2="540.50" stroke="#ff3b3b" stroke-width="1"/>
<line x1="1723.40" y1="540.50" x2="1731.80" y2="540.50" stroke="#ff3b3b" stroke-width="1"/>
<path d="M1723.40,545.80 Q1727.60,541.20 1731.80,545.80" stroke="#ff3b3b" stroke-width="1" fill="none"/>
<line x1="1727.60" y1="543.60" x2="1727.60" y2="548.90" stroke="#ff3b3b" stroke-width="1"/>
<line x1="1727.60" y1="548.90" x2="1727.60" y2="580.90" stroke="#3aaa3a" stroke-width="1"/>
<line x1="1727.60" y1="580.90" x2="1727.60" y2="589.00" stroke="#ff3b3b" stroke-width="1"/>
<line x1="1719.40" y1="589.00" x2="1735.80" y2="589.00" stroke="#ff3b3b" stroke-width="1"/>
<line x1="1722.60" y1="591.40" x2="1732.60" y2="591.40" stroke="#ff3b3b" stroke-width="1"/>
<line x1="1725.60" y1="593.50" x2="1729.60" y2="593.50" stroke="#ff3b3b" stroke-width="1"/>
<path d="M1731.60,537.40 H1734.20 M1732.90,536.10 V538.70" stroke="#ff3b3b" stroke-width="0.9" fill="none"/>
<text transform="translate(1736.10,540.05) scale(0.85,1)" font-size="7.4" fill="#111111">100u</text>
<text transform="translate(1736.10,546.85) scale(0.85,1)" font-size="7.4" fill="#111111">ESR=3m</text>
<text transform="translate(1736.10,553.65) scale(0.85,1)" font-size="7.4" fill="#111111">IC=1.8</text>
<text transform="translate(1736.10,560.45) scale(0.85,1)" font-size="7.4" fill="#111111">12x</text>
<text transform="translate(1736.10,567.25) scale(0.85,1)" font-size="7.4" fill="#111111">C_BSC_100_uf4</text>
<line x1="1704.50" y1="456.50" x2="1805.30" y2="456.50" stroke="#3aaa3a" stroke-width="1"/>
<line x1="1805.30" y1="456.50" x2="1805.30" y2="534.90" stroke="#3aaa3a" stroke-width="1"/>
<line x1="1805.30" y1="534.90" x2="1805.30" y2="540.50" stroke="#ff3b3b" stroke-width="1"/>
<line x1="1801.10" y1="540.50" x2="1809.50" y2="540.50" stroke="#ff3b3b" stroke-width="1"/>
<path d="M1801.10,545.80 Q1805.30,541.20 1809.50,545.80" stroke="#ff3b3b" stroke-width="1" fill="none"/>
<line x1="1805.30" y1="543.60" x2="1805.30" y2="548.90" stroke="#ff3b3b" stroke-width="1"/>
<line x1="1805.30" y1="548.90" x2="1805.30" y2="580.90" stroke="#3aaa3a" stroke-width="1"/>
<line x1="1805.30" y1="580.90" x2="1805.30" y2="589.00" stroke="#ff3b3b" stroke-width="1"/>
<line x1="1797.10" y1="589.00" x2="1813.50" y2="589.00" stroke="#ff3b3b" stroke-width="1"/>
<line x1="1800.30" y1="591.40" x2="1810.30" y2="591.40" stroke="#ff3b3b" stroke-width="1"/>
<line x1="1803.30" y1="593.50" x2="1807.30" y2="593.50" stroke="#ff3b3b" stroke-width="1"/>
<path d="M1809.30,537.40 H1811.90 M1810.60,536.10 V538.70" stroke="#ff3b3b" stroke-width="0.9" fill="none"/>
<text transform="translate(1813.80,540.05) scale(0.85,1)" font-size="7.4" fill="#111111">22u</text>
<text transform="translate(1813.80,546.85) scale(0.85,1)" font-size="7.4" fill="#111111">ESR=5m</text>
<text transform="translate(1813.80,553.65) scale(0.85,1)" font-size="7.4" fill="#111111">IC=1.8</text>
<text transform="translate(1813.80,560.45) scale(0.85,1)" font-size="7.4" fill="#111111">QUANTITY=104x</text>
<text transform="translate(1813.80,567.25) scale(0.85,1)" font-size="7.4" fill="#111111">C_BSC_22_uf1</text>
<line x1="1704.50" y1="472.30" x2="1867.80" y2="472.30" stroke="#3aaa3a" stroke-width="1"/>
<line x1="1867.80" y1="472.30" x2="1867.80" y2="534.90" stroke="#3aaa3a" stroke-width="1"/>
<line x1="1867.80" y1="534.90" x2="1867.80" y2="540.50" stroke="#ff3b3b" stroke-width="1"/>
<line x1="1863.60" y1="540.50" x2="1872.00" y2="540.50" stroke="#ff3b3b" stroke-width="1"/>
<path d="M1863.60,545.80 Q1867.80,541.20 1872.00,545.80" stroke="#ff3b3b" stroke-width="1" fill="none"/>
<line x1="1867.80" y1="543.60" x2="1867.80" y2="548.90" stroke="#ff3b3b" stroke-width="1"/>
<line x1="1867.80" y1="548.90" x2="1867.80" y2="580.90" stroke="#3aaa3a" stroke-width="1"/>
<line x1="1867.80" y1="580.90" x2="1867.80" y2="589.00" stroke="#ff3b3b" stroke-width="1"/>
<line x1="1859.60" y1="589.00" x2="1876.00" y2="589.00" stroke="#ff3b3b" stroke-width="1"/>
<line x1="1862.80" y1="591.40" x2="1872.80" y2="591.40" stroke="#ff3b3b" stroke-width="1"/>
<line x1="1865.80" y1="593.50" x2="1869.80" y2="593.50" stroke="#ff3b3b" stroke-width="1"/>
<path d="M1871.80,537.40 H1874.40 M1873.10,536.10 V538.70" stroke="#ff3b3b" stroke-width="0.9" fill="none"/>
<text transform="translate(1876.30,540.05) scale(0.85,1)" font-size="7.4" fill="#111111">100u</text>
<text transform="translate(1876.30,546.85) scale(0.85,1)" font-size="7.4" fill="#111111">ESR=3m</text>
<text transform="translate(1876.30,553.65) scale(0.85,1)" font-size="7.4" fill="#111111">IC=1.8</text>
<text transform="translate(1876.30,560.45) scale(0.85,1)" font-size="7.4" fill="#111111">49x</text>
<text transform="translate(1876.30,567.25) scale(0.85,1)" font-size="7.4" fill="#111111">C_BSC_100_uf1</text>
<line x1="1704.50" y1="487.40" x2="1922.40" y2="487.40" stroke="#3aaa3a" stroke-width="1"/>
<line x1="1922.40" y1="487.40" x2="1922.40" y2="534.90" stroke="#3aaa3a" stroke-width="1"/>
<line x1="1922.40" y1="534.90" x2="1922.40" y2="540.50" stroke="#ff3b3b" stroke-width="1"/>
<line x1="1918.20" y1="540.50" x2="1926.60" y2="540.50" stroke="#ff3b3b" stroke-width="1"/>
<path d="M1918.20,545.80 Q1922.40,541.20 1926.60,545.80" stroke="#ff3b3b" stroke-width="1" fill="none"/>
<line x1="1922.40" y1="543.60" x2="1922.40" y2="548.90" stroke="#ff3b3b" stroke-width="1"/>
<line x1="1922.40" y1="548.90" x2="1922.40" y2="580.90" stroke="#3aaa3a" stroke-width="1"/>
<line x1="1922.40" y1="580.90" x2="1922.40" y2="589.00" stroke="#ff3b3b" stroke-width="1"/>
<line x1="1914.20" y1="589.00" x2="1930.60" y2="589.00" stroke="#ff3b3b" stroke-width="1"/>
<line x1="1917.40" y1="591.40" x2="1927.40" y2="591.40" stroke="#ff3b3b" stroke-width="1"/>
<line x1="1920.40" y1="593.50" x2="1924.40" y2="593.50" stroke="#ff3b3b" stroke-width="1"/>
<path d="M1926.40,537.40 H1929.00 M1927.70,536.10 V538.70" stroke="#ff3b3b" stroke-width="0.9" fill="none"/>
<text transform="translate(1930.90,540.05) scale(0.85,1)" font-size="7.4" fill="#111111">100u</text>
<text transform="translate(1930.90,546.85) scale(0.85,1)" font-size="7.4" fill="#111111">ESR=3m</text>
<text transform="translate(1930.90,553.65) scale(0.85,1)" font-size="7.4" fill="#111111">IC=1.8</text>
<text transform="translate(1930.90,560.45) scale(0.85,1)" font-size="7.4" fill="#111111">12x</text>
<text transform="translate(1930.90,567.25) scale(0.85,1)" font-size="7.4" fill="#111111">C_BSC_100_uf2</text>
<line x1="1704.50" y1="503.30" x2="1976.80" y2="503.30" stroke="#3aaa3a" stroke-width="1"/>
<line x1="1976.80" y1="503.30" x2="1976.80" y2="534.90" stroke="#3aaa3a" stroke-width="1"/>
<line x1="1976.80" y1="534.90" x2="1976.80" y2="540.50" stroke="#ff3b3b" stroke-width="1"/>
<line x1="1972.60" y1="540.50" x2="1981.00" y2="540.50" stroke="#ff3b3b" stroke-width="1"/>
<path d="M1972.60,545.80 Q1976.80,541.20 1981.00,545.80" stroke="#ff3b3b" stroke-width="1" fill="none"/>
<line x1="1976.80" y1="543.60" x2="1976.80" y2="548.90" stroke="#ff3b3b" stroke-width="1"/>
<line x1="1976.80" y1="548.90" x2="1976.80" y2="580.90" stroke="#3aaa3a" stroke-width="1"/>
<line x1="1976.80" y1="580.90" x2="1976.80" y2="589.00" stroke="#ff3b3b" stroke-width="1"/>
<line x1="1968.60" y1="589.00" x2="1985.00" y2="589.00" stroke="#ff3b3b" stroke-width="1"/>
<line x1="1971.80" y1="591.40" x2="1981.80" y2="591.40" stroke="#ff3b3b" stroke-width="1"/>
<line x1="1974.80" y1="593.50" x2="1978.80" y2="593.50" stroke="#ff3b3b" stroke-width="1"/>
<path d="M1980.80,537.40 H1983.40 M1982.10,536.10 V538.70" stroke="#ff3b3b" stroke-width="0.9" fill="none"/>
<text transform="translate(1985.30,540.05) scale(0.85,1)" font-size="7.4" fill="#111111">100u</text>
<text transform="translate(1985.30,546.85) scale(0.85,1)" font-size="7.4" fill="#111111">ESR=3m</text>
<text transform="translate(1985.30,553.65) scale(0.85,1)" font-size="7.4" fill="#111111">IC=1.8</text>
<text transform="translate(1985.30,560.45) scale(0.85,1)" font-size="7.4" fill="#111111">12x</text>
<text transform="translate(1985.30,567.25) scale(0.85,1)" font-size="7.4" fill="#111111">C_BSC_100_uf6</text>
<rect x="2050.50" y="370.50" width="8.00" height="8.00" stroke="#ff3b3b" stroke-width="1" fill="none"/>
<text transform="translate(2054.80,369.65) scale(0.85,1)" font-size="7.4" fill="#111111" text-anchor="middle">LOAD_P</text>
<line x1="2054.80" y1="378.80" x2="2054.80" y2="386.00" stroke="#ff3b3b" stroke-width="1"/>
<line x1="2054.80" y1="386.00" x2="2054.80" y2="410.60" stroke="#3aaa3a" stroke-width="1"/>
<line x1="2054.80" y1="410.60" x2="2054.80" y2="417.20" stroke="#ff3b3b" stroke-width="1"/>
<circle cx="2054.80" cy="401.70" r="1.3" fill="#008800"/>
<path d="M2054.80,401.70 L2058.50,397.50 M2058.50,393.20 V397.70 M2058.50,397.50 H2062.50" stroke="#ff3b3b" stroke-width="1" fill="none"/>
<text transform="translate(2064.30,399.45) scale(0.85,1)" font-size="7.4" fill="#111111">VCCIN</text>
<circle cx="2054.8" cy="422.3" r="5" stroke="#ff3b3b" fill="none"/>
<circle cx="2054.8" cy="429.3" r="5" stroke="#ff3b3b" fill="none"/>
<line x1="2054.80" y1="434.30" x2="2054.80" y2="440.80" stroke="#ff3b3b" stroke-width="1"/>
<line x1="2054.80" y1="440.80" x2="2054.80" y2="580.90" stroke="#3aaa3a" stroke-width="1"/>
<line x1="2054.80" y1="580.90" x2="2054.80" y2="589.00" stroke="#ff3b3b" stroke-width="1"/>
<line x1="2046.60" y1="589.00" x2="2063.00" y2="589.00" stroke="#ff3b3b" stroke-width="1"/>
<line x1="2049.80" y1="591.40" x2="2059.80" y2="591.40" stroke="#ff3b3b" stroke-width="1"/>
<line x1="2052.80" y1="593.50" x2="2056.80" y2="593.50" stroke="#ff3b3b" stroke-width="1"/>
<text transform="translate(2061.00,414.85) scale(0.85,1)" font-size="7.4" fill="#111111">I1</text>
<text x="2064.00" y="427.55" font-size="7.4" fill="#111111" textLength="67.5" lengthAdjust="spacingAndGlyphs">File Defined PWL Source</text>
<text x="2064.00" y="433.85" font-size="7.4" fill="#111111" textLength="104.5" lengthAdjust="spacingAndGlyphs">FILE=Iload_from_Scope_resampled.txt</text>
<rect x="2037.00" y="421.30" width="7.60" height="8.00" fill="#2040c0"/>
<rect x="2038.50" y="422.00" width="4.50" height="2.50" fill="#ffffff"/>
<rect x="2039.50" y="426.50" width="3.00" height="2.50" fill="#a0b0e0"/>
<path d="M2046.3,417 V433 M2044.5,430.5 L2046.3,433.5 L2048,430.5" stroke="#ff3b3b" stroke-width="1" fill="none"/>
<circle cx="2054.80" cy="464.00" r="1.3" fill="#008800"/>
<line x1="2054.80" y1="464.00" x2="2062.40" y2="464.00" stroke="#ff3b3b" stroke-width="1"/>
<rect x="2062.50" y="460.50" width="8.00" height="8.00" stroke="#ff3b3b" stroke-width="1" fill="none"/>
<text transform="translate(2071.50,466.85) scale(0.85,1)" font-size="7.4" fill="#111111">VOSENN</text>
<rect x="218.50" y="658.50" width="179.00" height="156.00" stroke="#4458b0" stroke-width="1" fill="none"/>
<text transform="translate(308.00,649.65) scale(0.85,1)" font-size="7.4" fill="#111111" text-anchor="middle">U1</text>
<rect x="284.50" y="612.50" width="8.00" height="8.00" stroke="#ff3b3b" stroke-width="1" fill="none"/>
<text transform="translate(288.50,611.25) scale(0.85,1)" font-size="7.4" fill="#111111" text-anchor="middle">VOSENP</text>
<line x1="288.50" y1="620.80" x2="288.50" y2="628.00" stroke="#ff3b3b" stroke-width="1"/>
<line x1="288.50" y1="628.00" x2="288.50" y2="651.00" stroke="#3aaa3a" stroke-width="1"/>
<line x1="288.50" y1="651.00" x2="288.50" y2="658.70" stroke="#4458b0" stroke-width="1"/>
<line x1="274.30" y1="636.80" x2="302.70" y2="665.20" stroke="#4458b0" stroke-width="1"/>
<line x1="274.30" y1="665.20" x2="302.70" y2="636.80" stroke="#4458b0" stroke-width="1"/>
<text transform="translate(288.50,668.45) scale(0.85,1)" font-size="7.4" fill="#111111" text-anchor="middle">VOSEN</text>
<rect x="323.50" y="612.50" width="8.00" height="8.00" stroke="#ff3b3b" stroke-width="1" fill="none"/>
<text transform="translate(327.70,611.25) scale(0.85,1)" font-size="7.4" fill="#111111" text-anchor="middle">VOSENN</text>
<line x1="327.70" y1="620.80" x2="327.70" y2="628.00" stroke="#ff3b3b" stroke-width="1"/>
<line x1="327.70" y1="628.00" x2="327.70" y2="651.00" stroke="#3aaa3a" stroke-width="1"/>
<line x1="327.70" y1="651.00" x2="327.70" y2="658.70" stroke="#4458b0" stroke-width="1"/>
<line x1="313.50" y1="636.80" x2="341.90" y2="665.20" stroke="#4458b0" stroke-width="1"/>
<line x1="313.50" y1="665.20" x2="341.90" y2="636.80" stroke="#4458b0" stroke-width="1"/>
<text transform="translate(327.70,668.45) scale(0.85,1)" font-size="7.4" fill="#111111" text-anchor="middle">VORTN</text>
<rect x="175.60" y="671.80" width="12.20" height="5.20" fill="#ff0000"/>
<text transform="translate(174.50,677.05) scale(0.85,1)" font-size="7.4" fill="#111111" text-anchor="end">VIN</text>
<line x1="187.60" y1="674.40" x2="194.50" y2="674.40" stroke="#ff3b3b" stroke-width="1"/>
<line x1="194.50" y1="674.40" x2="211.00" y2="674.40" stroke="#3aaa3a" stroke-width="1"/>
<line x1="211.00" y1="674.40" x2="218.40" y2="674.40" stroke="#4458b0" stroke-width="1"/>
<line x1="196.80" y1="660.20" x2="225.20" y2="688.60" stroke="#4458b0" stroke-width="1"/>
<line x1="196.80" y1="688.60" x2="225.20" y2="660.20" stroke="#4458b0" stroke-width="1"/>
<text transform="translate(222.00,674.65) scale(0.85,1)" font-size="7.4" fill="#111111">VIN</text>
<rect x="167.90" y="702.80" width="12.20" height="5.20" fill="#ff0000"/>
<text transform="translate(166.50,708.35) scale(0.85,1)" font-size="7.4" fill="#111111" text-anchor="end">PWM1</text>
<line x1="180.00" y1="705.40" x2="187.00" y2="705.40" stroke="#ff3b3b" stroke-width="1"/>
<line x1="187.00" y1="705.40" x2="211.00" y2="705.40" stroke="#3aaa3a" stroke-width="1"/>
<line x1="211.00" y1="705.40" x2="218.40" y2="705.40" stroke="#4458b0" stroke-width="1"/>
<line x1="196.80" y1="691.20" x2="225.20" y2="719.60" stroke="#4458b0" stroke-width="1"/>
<line x1="196.80" y1="719.60" x2="225.20" y2="691.20" stroke="#4458b0" stroke-width="1"/>
<text transform="translate(221.50,708.05) scale(0.85,1)" font-size="7.4" fill="#111111">PWM1</text>
<line x1="397.40" y1="705.40" x2="405.50" y2="705.40" stroke="#4458b0" stroke-width="1"/>
<line x1="391.30" y1="691.20" x2="419.70" y2="719.60" stroke="#4458b0" stroke-width="1"/>
<line x1="391.30" y1="719.60" x2="419.70" y2="691.20" stroke="#4458b0" stroke-width="1"/>
<line x1="405.50" y1="705.40" x2="444.50" y2="705.40" stroke="#3aaa3a" stroke-width="1"/>
<line x1="444.50" y1="705.40" x2="451.70" y2="705.40" stroke="#ff3b3b" stroke-width="1"/>
<rect x="451.70" y="702.80" width="12.20" height="5.20" fill="#ff0000"/>
<text transform="translate(466.00,708.45) scale(0.85,1)" font-size="7.4" fill="#111111">CS1</text>
<text transform="translate(393.50,706.55) scale(0.85,1)" font-size="7.4" fill="#111111" text-anchor="end">CS1</text>
<rect x="167.90" y="710.60" width="12.20" height="5.20" fill="#ff0000"/>
<text transform="translate(166.50,716.15) scale(0.85,1)" font-size="7.4" fill="#111111" text-anchor="end">PWM2</text>
<line x1="180.00" y1="713.20" x2="187.00" y2="713.20" stroke="#ff3b3b" stroke-width="1"/>
<line x1="187.00" y1="713.20" x2="211.00" y2="713.20" stroke="#3aaa3a" stroke-width="1"/>
<line x1="211.00" y1="713.20" x2="218.40" y2="713.20" stroke="#4458b0" stroke-width="1"/>
<line x1="196.80" y1="699.00" x2="225.20" y2="727.40" stroke="#4458b0" stroke-width="1"/>
<line x1="196.80" y1="727.40" x2="225.20" y2="699.00" stroke="#4458b0" stroke-width="1"/>
<text transform="translate(221.50,715.85) scale(0.85,1)" font-size="7.4" fill="#111111">PWM2</text>
<line x1="397.40" y1="713.20" x2="405.50" y2="713.20" stroke="#4458b0" stroke-width="1"/>
<line x1="391.30" y1="699.00" x2="419.70" y2="727.40" stroke="#4458b0" stroke-width="1"/>
<line x1="391.30" y1="727.40" x2="419.70" y2="699.00" stroke="#4458b0" stroke-width="1"/>
<line x1="405.50" y1="713.20" x2="444.50" y2="713.20" stroke="#3aaa3a" stroke-width="1"/>
<line x1="444.50" y1="713.20" x2="451.70" y2="713.20" stroke="#ff3b3b" stroke-width="1"/>
<rect x="451.70" y="710.60" width="12.20" height="5.20" fill="#ff0000"/>
<text transform="translate(466.00,716.25) scale(0.85,1)" font-size="7.4" fill="#111111">CS2</text>
<text transform="translate(393.50,714.35) scale(0.85,1)" font-size="7.4" fill="#111111" text-anchor="end">CS2</text>
<rect x="167.90" y="718.30" width="12.20" height="5.20" fill="#ff0000"/>
<text transform="translate(166.50,723.85) scale(0.85,1)" font-size="7.4" fill="#111111" text-anchor="end">PWM3</text>
<line x1="180.00" y1="720.90" x2="187.00" y2="720.90" stroke="#ff3b3b" stroke-width="1"/>
<line x1="187.00" y1="720.90" x2="211.00" y2="720.90" stroke="#3aaa3a" stroke-width="1"/>
<line x1="211.00" y1="720.90" x2="218.40" y2="720.90" stroke="#4458b0" stroke-width="1"/>
<line x1="196.80" y1="706.70" x2="225.20" y2="735.10" stroke="#4458b0" stroke-width="1"/>
<line x1="196.80" y1="735.10" x2="225.20" y2="706.70" stroke="#4458b0" stroke-width="1"/>
<text transform="translate(221.50,723.55) scale(0.85,1)" font-size="7.4" fill="#111111">PWM3</text>
<line x1="397.40" y1="720.90" x2="405.50" y2="720.90" stroke="#4458b0" stroke-width="1"/>
<line x1="391.30" y1="706.70" x2="419.70" y2="735.10" stroke="#4458b0" stroke-width="1"/>
<line x1="391.30" y1="735.10" x2="419.70" y2="706.70" stroke="#4458b0" stroke-width="1"/>
<line x1="405.50" y1="720.90" x2="444.50" y2="720.90" stroke="#3aaa3a" stroke-width="1"/>
<line x1="444.50" y1="720.90" x2="451.70" y2="720.90" stroke="#ff3b3b" stroke-width="1"/>
<rect x="451.70" y="718.30" width="12.20" height="5.20" fill="#ff0000"/>
<text transform="translate(466.00,723.95) scale(0.85,1)" font-size="7.4" fill="#111111">CS3</text>
<text transform="translate(393.50,722.05) scale(0.85,1)" font-size="7.4" fill="#111111" text-anchor="end">CS3</text>
<rect x="167.90" y="726.10" width="12.20" height="5.20" fill="#ff0000"/>
<text transform="translate(166.50,731.65) scale(0.85,1)" font-size="7.4" fill="#111111" text-anchor="end">PWM4</text>
<line x1="180.00" y1="728.70" x2="187.00" y2="728.70" stroke="#ff3b3b" stroke-width="1"/>
<line x1="187.00" y1="728.70" x2="211.00" y2="728.70" stroke="#3aaa3a" stroke-width="1"/>
<line x1="211.00" y1="728.70" x2="218.40" y2="728.70" stroke="#4458b0" stroke-width="1"/>
<line x1="196.80" y1="714.50" x2="225.20" y2="742.90" stroke="#4458b0" stroke-width="1"/>
<line x1="196.80" y1="742.90" x2="225.20" y2="714.50" stroke="#4458b0" stroke-width="1"/>
<text transform="translate(221.50,731.35) scale(0.85,1)" font-size="7.4" fill="#111111">PWM4</text>
<line x1="397.40" y1="728.70" x2="405.50" y2="728.70" stroke="#4458b0" stroke-width="1"/>
<line x1="391.30" y1="714.50" x2="419.70" y2="742.90" stroke="#4458b0" stroke-width="1"/>
<line x1="391.30" y1="742.90" x2="419.70" y2="714.50" stroke="#4458b0" stroke-width="1"/>
<line x1="405.50" y1="728.70" x2="444.50" y2="728.70" stroke="#3aaa3a" stroke-width="1"/>
<line x1="444.50" y1="728.70" x2="451.70" y2="728.70" stroke="#ff3b3b" stroke-width="1"/>
<rect x="451.70" y="726.10" width="12.20" height="5.20" fill="#ff0000"/>
<text transform="translate(466.00,731.75) scale(0.85,1)" font-size="7.4" fill="#111111">CS4</text>
<text transform="translate(393.50,729.85) scale(0.85,1)" font-size="7.4" fill="#111111" text-anchor="end">CS4</text>
<rect x="167.90" y="733.90" width="12.20" height="5.20" fill="#ff0000"/>
<text transform="translate(166.50,739.45) scale(0.85,1)" font-size="7.4" fill="#111111" text-anchor="end">PWM5</text>
<line x1="180.00" y1="736.50" x2="187.00" y2="736.50" stroke="#ff3b3b" stroke-width="1"/>
<line x1="187.00" y1="736.50" x2="211.00" y2="736.50" stroke="#3aaa3a" stroke-width="1"/>
<line x1="211.00" y1="736.50" x2="218.40" y2="736.50" stroke="#4458b0" stroke-width="1"/>
<line x1="196.80" y1="722.30" x2="225.20" y2="750.70" stroke="#4458b0" stroke-width="1"/>
<line x1="196.80" y1="750.70" x2="225.20" y2="722.30" stroke="#4458b0" stroke-width="1"/>
<text transform="translate(221.50,739.15) scale(0.85,1)" font-size="7.4" fill="#111111">PWM5</text>
<line x1="397.40" y1="736.50" x2="405.50" y2="736.50" stroke="#4458b0" stroke-width="1"/>
<line x1="391.30" y1="722.30" x2="419.70" y2="750.70" stroke="#4458b0" stroke-width="1"/>
<line x1="391.30" y1="750.70" x2="419.70" y2="722.30" stroke="#4458b0" stroke-width="1"/>
<line x1="405.50" y1="736.50" x2="444.50" y2="736.50" stroke="#3aaa3a" stroke-width="1"/>
<line x1="444.50" y1="736.50" x2="451.70" y2="736.50" stroke="#ff3b3b" stroke-width="1"/>
<rect x="451.70" y="733.90" width="12.20" height="5.20" fill="#ff0000"/>
<text transform="translate(466.00,739.55) scale(0.85,1)" font-size="7.4" fill="#111111">CS5</text>
<text transform="translate(393.50,737.65) scale(0.85,1)" font-size="7.4" fill="#111111" text-anchor="end">CS5</text>
<rect x="167.90" y="741.70" width="12.20" height="5.20" fill="#ff0000"/>
<text transform="translate(166.50,747.25) scale(0.85,1)" font-size="7.4" fill="#111111" text-anchor="end">PWM6</text>
<line x1="180.00" y1="744.30" x2="187.00" y2="744.30" stroke="#ff3b3b" stroke-width="1"/>
<line x1="187.00" y1="744.30" x2="211.00" y2="744.30" stroke="#3aaa3a" stroke-width="1"/>
<line x1="211.00" y1="744.30" x2="218.40" y2="744.30" stroke="#4458b0" stroke-width="1"/>
<line x1="196.80" y1="730.10" x2="225.20" y2="758.50" stroke="#4458b0" stroke-width="1"/>
<line x1="196.80" y1="758.50" x2="225.20" y2="730.10" stroke="#4458b0" stroke-width="1"/>
<text transform="translate(221.50,746.95) scale(0.85,1)" font-size="7.4" fill="#111111">PWM6</text>
<line x1="397.40" y1="744.30" x2="405.50" y2="744.30" stroke="#4458b0" stroke-width="1"/>
<line x1="391.30" y1="730.10" x2="419.70" y2="758.50" stroke="#4458b0" stroke-width="1"/>
<line x1="391.30" y1="758.50" x2="419.70" y2="730.10" stroke="#4458b0" stroke-width="1"/>
<line x1="405.50" y1="744.30" x2="444.50" y2="744.30" stroke="#3aaa3a" stroke-width="1"/>
<line x1="444.50" y1="744.30" x2="451.70" y2="744.30" stroke="#ff3b3b" stroke-width="1"/>
<rect x="451.70" y="741.70" width="12.20" height="5.20" fill="#ff0000"/>
<text transform="translate(466.00,747.35) scale(0.85,1)" font-size="7.4" fill="#111111">CS6</text>
<text transform="translate(393.50,745.45) scale(0.85,1)" font-size="7.4" fill="#111111" text-anchor="end">CS6</text>
<rect x="167.90" y="749.40" width="12.20" height="5.20" fill="#ff0000"/>
<text transform="translate(166.50,754.95) scale(0.85,1)" font-size="7.4" fill="#111111" text-anchor="end">PWM7</text>
<line x1="180.00" y1="752.00" x2="187.00" y2="752.00" stroke="#ff3b3b" stroke-width="1"/>
<line x1="187.00" y1="752.00" x2="211.00" y2="752.00" stroke="#3aaa3a" stroke-width="1"/>
<line x1="211.00" y1="752.00" x2="218.40" y2="752.00" stroke="#4458b0" stroke-width="1"/>
<line x1="196.80" y1="737.80" x2="225.20" y2="766.20" stroke="#4458b0" stroke-width="1"/>
<line x1="196.80" y1="766.20" x2="225.20" y2="737.80" stroke="#4458b0" stroke-width="1"/>
<text transform="translate(221.50,754.65) scale(0.85,1)" font-size="7.4" fill="#111111">PWM7</text>
<line x1="397.40" y1="752.00" x2="405.50" y2="752.00" stroke="#4458b0" stroke-width="1"/>
<line x1="391.30" y1="737.80" x2="419.70" y2="766.20" stroke="#4458b0" stroke-width="1"/>
<line x1="391.30" y1="766.20" x2="419.70" y2="737.80" stroke="#4458b0" stroke-width="1"/>
<line x1="405.50" y1="752.00" x2="444.50" y2="752.00" stroke="#3aaa3a" stroke-width="1"/>
<line x1="444.50" y1="752.00" x2="451.70" y2="752.00" stroke="#ff3b3b" stroke-width="1"/>
<rect x="451.70" y="749.40" width="12.20" height="5.20" fill="#ff0000"/>
<text transform="translate(466.00,755.05) scale(0.85,1)" font-size="7.4" fill="#111111">CS7</text>
<text transform="translate(393.50,753.15) scale(0.85,1)" font-size="7.4" fill="#111111" text-anchor="end">CS7</text>
<rect x="167.90" y="757.20" width="12.20" height="5.20" fill="#ff0000"/>
<text transform="translate(166.50,762.75) scale(0.85,1)" font-size="7.4" fill="#111111" text-anchor="end">PWM8</text>
<line x1="180.00" y1="759.80" x2="187.00" y2="759.80" stroke="#ff3b3b" stroke-width="1"/>
<line x1="187.00" y1="759.80" x2="211.00" y2="759.80" stroke="#3aaa3a" stroke-width="1"/>
<line x1="211.00" y1="759.80" x2="218.40" y2="759.80" stroke="#4458b0" stroke-width="1"/>
<line x1="196.80" y1="745.60" x2="225.20" y2="774.00" stroke="#4458b0" stroke-width="1"/>
<line x1="196.80" y1="774.00" x2="225.20" y2="745.60" stroke="#4458b0" stroke-width="1"/>
<text transform="translate(221.50,762.45) scale(0.85,1)" font-size="7.4" fill="#111111">PWM8</text>
<line x1="397.40" y1="759.80" x2="405.50" y2="759.80" stroke="#4458b0" stroke-width="1"/>
<line x1="391.30" y1="745.60" x2="419.70" y2="774.00" stroke="#4458b0" stroke-width="1"/>
<line x1="391.30" y1="774.00" x2="419.70" y2="745.60" stroke="#4458b0" stroke-width="1"/>
<line x1="405.50" y1="759.80" x2="444.50" y2="759.80" stroke="#3aaa3a" stroke-width="1"/>
<line x1="444.50" y1="759.80" x2="451.70" y2="759.80" stroke="#ff3b3b" stroke-width="1"/>
<rect x="451.70" y="757.20" width="12.20" height="5.20" fill="#ff0000"/>
<text transform="translate(466.00,762.85) scale(0.85,1)" font-size="7.4" fill="#111111">CS8</text>
<text transform="translate(393.50,760.95) scale(0.85,1)" font-size="7.4" fill="#111111" text-anchor="end">CS8</text>
<rect x="163.50" y="786.50" width="9.00" height="8.00" stroke="#ff3b3b" stroke-width="1" fill="none"/>
<text transform="translate(162.50,792.95) scale(0.85,1)" font-size="7.4" fill="#111111" text-anchor="end">VREF</text>
<line x1="172.60" y1="791.20" x2="180.00" y2="791.20" stroke="#ff3b3b" stroke-width="1"/>
<line x1="180.00" y1="791.20" x2="211.00" y2="791.20" stroke="#3aaa3a" stroke-width="1"/>
<line x1="211.00" y1="791.20" x2="218.40" y2="791.20" stroke="#4458b0" stroke-width="1"/>
<line x1="196.80" y1="777.00" x2="225.20" y2="805.40" stroke="#4458b0" stroke-width="1"/>
<line x1="196.80" y1="805.40" x2="225.20" y2="777.00" stroke="#4458b0" stroke-width="1"/>
<circle cx="187.20" cy="791.20" r="1.3" fill="#008800"/>
<circle cx="195.00" cy="791.20" r="1.3" fill="#008800"/>
<path d="M187.20,791.20 L190.50,787.00 M190.50,782.70 V787.20 M190.50,787.00 H194.50" stroke="#ff3b3b" stroke-width="1" fill="none"/>
<text transform="translate(196.70,788.95) scale(0.85,1)" font-size="7.4" fill="#111111">VREF</text>
<text transform="translate(222.00,791.25) scale(0.85,1)" font-size="7.4" fill="#111111">VREF</text>
<line x1="195.00" y1="791.20" x2="195.00" y2="815.00" stroke="#3aaa3a" stroke-width="1"/>
<line x1="195.00" y1="815.00" x2="195.00" y2="822.20" stroke="#ff3b3b" stroke-width="1"/>
<circle cx="195.4" cy="830.2" r="8" stroke="#ff3b3b" fill="none"/>
<path d="M190,833.5 L192.2,827 L194.5,833.5 L196.7,827 L199,833.5 M194.7,823.5 V826.5 M193.2,825 H196.2" stroke="#ff3b3b" stroke-width="0.9" fill="none"/>
<line x1="195.40" y1="838.20" x2="195.40" y2="841.00" stroke="#ff3b3b" stroke-width="1"/>
<line x1="195.40" y1="841.00" x2="195.40" y2="861.00" stroke="#3aaa3a" stroke-width="1"/>
<line x1="195.40" y1="861.00" x2="195.40" y2="868.30" stroke="#ff3b3b" stroke-width="1"/>
<line x1="187.20" y1="868.30" x2="203.60" y2="868.30" stroke="#ff3b3b" stroke-width="1"/>
<line x1="190.40" y1="870.70" x2="200.40" y2="870.70" stroke="#ff3b3b" stroke-width="1"/>
<line x1="193.40" y1="872.80" x2="197.40" y2="872.80" stroke="#ff3b3b" stroke-width="1"/>
<text transform="translate(205.00,819.45) scale(0.85,1)" font-size="7.4" fill="#111111">V5</text>
<line x1="265.30" y1="814.10" x2="265.30" y2="821.70" stroke="#4458b0" stroke-width="1"/>
<line x1="251.30" y1="807.70" x2="279.30" y2="835.70" stroke="#4458b0" stroke-width="1"/>
<line x1="251.30" y1="835.70" x2="279.30" y2="807.70" stroke="#4458b0" stroke-width="1"/>
<text transform="translate(265.30,810.45) scale(0.85,1)" font-size="7.4" fill="#111111" text-anchor="middle">EN</text>
<line x1="303.90" y1="814.10" x2="303.90" y2="821.70" stroke="#4458b0" stroke-width="1"/>
<line x1="289.90" y1="807.70" x2="317.90" y2="835.70" stroke="#4458b0" stroke-width="1"/>
<line x1="289.90" y1="835.70" x2="317.90" y2="807.70" stroke="#4458b0" stroke-width="1"/>
<text transform="translate(303.90,810.45) scale(0.85,1)" font-size="7.4" fill="#111111" text-anchor="middle">VDD33</text>
<line x1="350.80" y1="814.10" x2="350.80" y2="821.70" stroke="#4458b0" stroke-width="1"/>
<line x1="336.80" y1="807.70" x2="364.80" y2="835.70" stroke="#4458b0" stroke-width="1"/>
<line x1="336.80" y1="835.70" x2="364.80" y2="807.70" stroke="#4458b0" stroke-width="1"/>
<text transform="translate(350.80,810.45) scale(0.85,1)" font-size="7.4" fill="#111111" text-anchor="middle">VDD18</text>
<line x1="265.30" y1="821.70" x2="265.30" y2="830.00" stroke="#3aaa3a" stroke-width="1"/>
<line x1="265.30" y1="830.00" x2="265.30" y2="840.80" stroke="#ff3b3b" stroke-width="1"/>
<line x1="257.30" y1="840.80" x2="273.30" y2="840.80" stroke="#ff3b3b" stroke-width="1"/>
<line x1="261.80" y1="843.70" x2="268.80" y2="843.70" stroke="#ff3b3b" stroke-width="1"/>
<line x1="257.30" y1="847.10" x2="273.30" y2="847.10" stroke="#ff3b3b" stroke-width="1"/>
<line x1="261.80" y1="849.70" x2="268.80" y2="849.70" stroke="#ff3b3b" stroke-width="1"/>
<line x1="265.30" y1="849.70" x2="265.30" y2="868.30" stroke="#ff3b3b" stroke-width="1"/>
<line x1="257.10" y1="868.30" x2="273.50" y2="868.30" stroke="#ff3b3b" stroke-width="1"/>
<line x1="260.30" y1="870.70" x2="270.30" y2="870.70" stroke="#ff3b3b" stroke-width="1"/>
<line x1="263.30" y1="872.80" x2="267.30" y2="872.80" stroke="#ff3b3b" stroke-width="1"/>
<text transform="translate(274.80,835.15) scale(0.85,1)" font-size="7.4" fill="#111111">3.3</text>
<text transform="translate(274.80,842.15) scale(0.85,1)" font-size="7.4" fill="#111111">V3</text>
<line x1="303.90" y1="821.70" x2="303.90" y2="830.00" stroke="#3aaa3a" stroke-width="1"/>
<line x1="303.90" y1="830.00" x2="303.90" y2="840.80" stroke="#ff3b3b" stroke-width="1"/>
<line x1="295.90" y1="840.80" x2="311.90" y2="840.80" stroke="#ff3b3b" stroke-width="1"/>
<line x1="300.40" y1="843.70" x2="307.40" y2="843.70" stroke="#ff3b3b" stroke-width="1"/>
<line x1="295.90" y1="847.10" x2="311.90" y2="847.10" stroke="#ff3b3b" stroke-width="1"/>
<line x1="300.40" y1="849.70" x2="307.40" y2="849.70" stroke="#ff3b3b" stroke-width="1"/>
<line x1="303.90" y1="849.70" x2="303.90" y2="868.30" stroke="#ff3b3b" stroke-width="1"/>
<line x1="295.70" y1="868.30" x2="312.10" y2="868.30" stroke="#ff3b3b" stroke-width="1"/>
<line x1="298.90" y1="870.70" x2="308.90" y2="870.70" stroke="#ff3b3b" stroke-width="1"/>
<line x1="301.90" y1="872.80" x2="305.90" y2="872.80" stroke="#ff3b3b" stroke-width="1"/>
<text transform="translate(313.40,835.15) scale(0.85,1)" font-size="7.4" fill="#111111">V7</text>
<text transform="translate(313.40,842.15) scale(0.85,1)" font-size="7.4" fill="#111111">3.3</text>
<line x1="350.80" y1="821.70" x2="350.80" y2="838.00" stroke="#3aaa3a" stroke-width="1"/>
<line x1="350.80" y1="838.00" x2="350.80" y2="842.50" stroke="#ff3b3b" stroke-width="1"/>
<line x1="345.80" y1="842.90" x2="355.80" y2="842.90" stroke="#ff0000" stroke-width="1"/>
<line x1="345.80" y1="848.00" x2="355.80" y2="848.00" stroke="#ff0000" stroke-width="1"/>
<line x1="345.8" y1="842.9" x2="355.8" y2="842.9" stroke="#ff0000" stroke-width="1.6"/>
<line x1="345.8" y1="848" x2="355.8" y2="848" stroke="#ff0000" stroke-width="1.6"/>
<line x1="350.80" y1="848.50" x2="350.80" y2="851.00" stroke="#ff3b3b" stroke-width="1"/>
<line x1="350.80" y1="851.00" x2="350.80" y2="861.00" stroke="#3aaa3a" stroke-width="1"/>
<line x1="350.80" y1="861.00" x2="350.80" y2="868.30" stroke="#ff3b3b" stroke-width="1"/>
<line x1="342.60" y1="868.30" x2="359.00" y2="868.30" stroke="#ff3b3b" stroke-width="1"/>
<line x1="345.80" y1="870.70" x2="355.80" y2="870.70" stroke="#ff3b3b" stroke-width="1"/>
<line x1="348.80" y1="872.80" x2="352.80" y2="872.80" stroke="#ff3b3b" stroke-width="1"/>
<text transform="translate(357.00,842.85) scale(0.85,1)" font-size="7.4" fill="#111111">C1</text>
<text transform="translate(357.00,849.95) scale(0.85,1)" font-size="7.4" fill="#111111">1u IC=-1.80000000000000e+000</text>
</svg>
</body></html>
